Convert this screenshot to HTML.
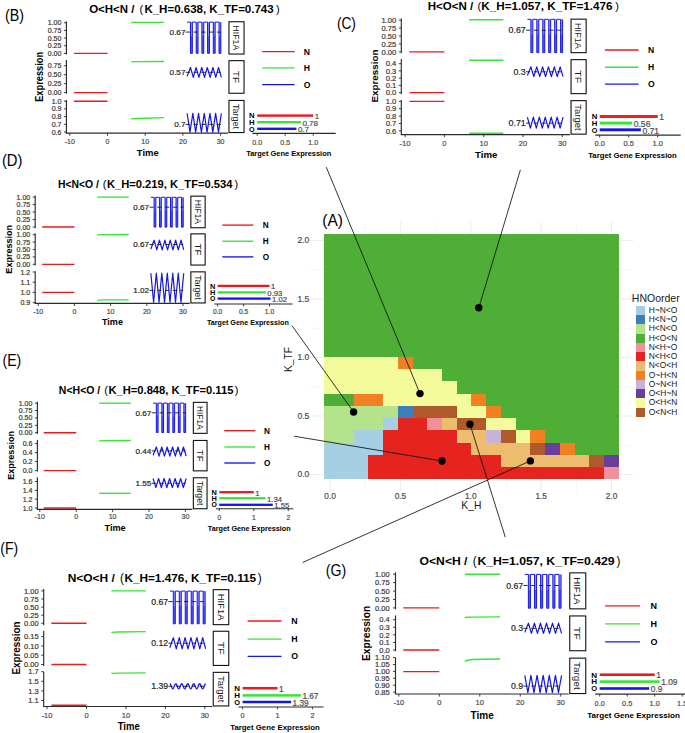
<!DOCTYPE html>
<html><head><meta charset="utf-8"><style>
html,body{margin:0;padding:0;background:#fff;width:685px;height:733px;overflow:hidden}
svg{display:block;font-family:"Liberation Sans",sans-serif}
</style></head><body>
<svg width="685" height="733" viewBox="0 0 685 733" font-family="Liberation Sans, sans-serif">
<rect x="0" y="0" width="685" height="733" fill="#fff"/>
<line x1="330.1" y1="222" x2="330.1" y2="491.5" stroke="#ebebeb" stroke-width="0.9"/>
<line x1="309.5" y1="474.5" x2="633.5" y2="474.5" stroke="#ebebeb" stroke-width="0.9"/>
<line x1="365.28" y1="222" x2="365.28" y2="491.5" stroke="#ebebeb" stroke-width="0.5"/>
<line x1="309.5" y1="445.24" x2="633.5" y2="445.24" stroke="#ebebeb" stroke-width="0.5"/>
<line x1="400.45" y1="222" x2="400.45" y2="491.5" stroke="#ebebeb" stroke-width="0.9"/>
<line x1="309.5" y1="415.98" x2="633.5" y2="415.98" stroke="#ebebeb" stroke-width="0.9"/>
<line x1="435.62" y1="222" x2="435.62" y2="491.5" stroke="#ebebeb" stroke-width="0.5"/>
<line x1="309.5" y1="386.71" x2="633.5" y2="386.71" stroke="#ebebeb" stroke-width="0.5"/>
<line x1="470.8" y1="222" x2="470.8" y2="491.5" stroke="#ebebeb" stroke-width="0.9"/>
<line x1="309.5" y1="357.45" x2="633.5" y2="357.45" stroke="#ebebeb" stroke-width="0.9"/>
<line x1="505.98" y1="222" x2="505.98" y2="491.5" stroke="#ebebeb" stroke-width="0.5"/>
<line x1="309.5" y1="328.19" x2="633.5" y2="328.19" stroke="#ebebeb" stroke-width="0.5"/>
<line x1="541.15" y1="222" x2="541.15" y2="491.5" stroke="#ebebeb" stroke-width="0.9"/>
<line x1="309.5" y1="298.93" x2="633.5" y2="298.93" stroke="#ebebeb" stroke-width="0.9"/>
<line x1="576.33" y1="222" x2="576.33" y2="491.5" stroke="#ebebeb" stroke-width="0.5"/>
<line x1="309.5" y1="269.66" x2="633.5" y2="269.66" stroke="#ebebeb" stroke-width="0.5"/>
<line x1="611.5" y1="222" x2="611.5" y2="491.5" stroke="#ebebeb" stroke-width="0.9"/>
<line x1="309.5" y1="240.4" x2="633.5" y2="240.4" stroke="#ebebeb" stroke-width="0.9"/>
<g shape-rendering="crispEdges">
<rect x="324.1" y="234.3" width="294.7" height="245" fill="#4fae36"/>
<rect x="324.1" y="467.05" width="44.2" height="12.25" fill="#a6cfe3"/>
<rect x="368.31" y="467.05" width="235.76" height="12.25" fill="#e52420"/>
<rect x="604.06" y="467.05" width="14.73" height="12.25" fill="#f09199"/>
<rect x="324.1" y="454.8" width="44.2" height="12.25" fill="#a6cfe3"/>
<rect x="368.31" y="454.8" width="132.61" height="12.25" fill="#e52420"/>
<rect x="500.92" y="454.8" width="88.41" height="12.25" fill="#eebc6f"/>
<rect x="589.33" y="454.8" width="14.73" height="12.25" fill="#ae5a2b"/>
<rect x="604.06" y="454.8" width="14.73" height="12.25" fill="#6a3e9d"/>
<rect x="324.1" y="442.55" width="58.94" height="12.25" fill="#a6cfe3"/>
<rect x="383.04" y="442.55" width="88.41" height="12.25" fill="#e52420"/>
<rect x="471.45" y="442.55" width="58.94" height="12.25" fill="#eebc6f"/>
<rect x="530.39" y="442.55" width="14.73" height="12.25" fill="#ae5a2b"/>
<rect x="545.12" y="442.55" width="14.73" height="12.25" fill="#6a3e9d"/>
<rect x="559.86" y="442.55" width="14.73" height="12.25" fill="#f18022"/>
<rect x="324.1" y="430.3" width="29.47" height="12.25" fill="#b4e38c"/>
<rect x="353.57" y="430.3" width="29.47" height="12.25" fill="#a6cfe3"/>
<rect x="383.04" y="430.3" width="73.67" height="12.25" fill="#e52420"/>
<rect x="456.71" y="430.3" width="29.47" height="12.25" fill="#eebc6f"/>
<rect x="486.18" y="430.3" width="14.73" height="12.25" fill="#c8b2d8"/>
<rect x="500.92" y="430.3" width="14.73" height="12.25" fill="#ae5a2b"/>
<rect x="515.65" y="430.3" width="14.73" height="12.25" fill="#f3fb9a"/>
<rect x="530.39" y="430.3" width="14.73" height="12.25" fill="#f18022"/>
<rect x="324.1" y="418.05" width="58.94" height="12.25" fill="#b4e38c"/>
<rect x="383.04" y="418.05" width="14.73" height="12.25" fill="#a6cfe3"/>
<rect x="397.77" y="418.05" width="29.47" height="12.25" fill="#e52420"/>
<rect x="427.25" y="418.05" width="14.73" height="12.25" fill="#f09199"/>
<rect x="441.98" y="418.05" width="14.73" height="12.25" fill="#eebc6f"/>
<rect x="456.71" y="418.05" width="29.47" height="12.25" fill="#ae5a2b"/>
<rect x="486.18" y="418.05" width="29.47" height="12.25" fill="#f3fb9a"/>
<rect x="324.1" y="405.8" width="73.67" height="12.25" fill="#b4e38c"/>
<rect x="397.77" y="405.8" width="14.73" height="12.25" fill="#3d7fbd"/>
<rect x="412.51" y="405.8" width="44.2" height="12.25" fill="#ae5a2b"/>
<rect x="456.71" y="405.8" width="29.47" height="12.25" fill="#f3fb9a"/>
<rect x="486.18" y="405.8" width="14.73" height="12.25" fill="#f18022"/>
<rect x="353.57" y="393.55" width="29.47" height="12.25" fill="#f18022"/>
<rect x="383.04" y="393.55" width="88.41" height="12.25" fill="#f3fb9a"/>
<rect x="471.45" y="393.55" width="14.73" height="12.25" fill="#f18022"/>
<rect x="324.1" y="381.3" width="132.61" height="12.25" fill="#f3fb9a"/>
<rect x="324.1" y="369.05" width="117.88" height="12.25" fill="#f3fb9a"/>
<rect x="324.1" y="356.8" width="73.67" height="12.25" fill="#f3fb9a"/>
<rect x="397.77" y="356.8" width="14.73" height="12.25" fill="#f18022"/>
</g>
<text x="330.1" y="498.7" font-size="8.3" text-anchor="middle" fill="#4d4d4d" stroke="#4d4d4d" stroke-width="0.2">0.0</text>
<text x="309.3" y="477.4" font-size="8.5" text-anchor="end" fill="#4d4d4d" stroke="#4d4d4d" stroke-width="0.2">0.0</text>
<text x="400.45" y="498.7" font-size="8.3" text-anchor="middle" fill="#4d4d4d" stroke="#4d4d4d" stroke-width="0.2">0.5</text>
<text x="309.3" y="418.88" font-size="8.5" text-anchor="end" fill="#4d4d4d" stroke="#4d4d4d" stroke-width="0.2">0.5</text>
<text x="470.8" y="498.7" font-size="8.3" text-anchor="middle" fill="#4d4d4d" stroke="#4d4d4d" stroke-width="0.2">1.0</text>
<text x="309.3" y="360.35" font-size="8.5" text-anchor="end" fill="#4d4d4d" stroke="#4d4d4d" stroke-width="0.2">1.0</text>
<text x="541.15" y="498.7" font-size="8.3" text-anchor="middle" fill="#4d4d4d" stroke="#4d4d4d" stroke-width="0.2">1.5</text>
<text x="309.3" y="301.82" font-size="8.5" text-anchor="end" fill="#4d4d4d" stroke="#4d4d4d" stroke-width="0.2">1.5</text>
<text x="611.5" y="498.7" font-size="8.3" text-anchor="middle" fill="#4d4d4d" stroke="#4d4d4d" stroke-width="0.2">2.0</text>
<text x="309.3" y="243.3" font-size="8.5" text-anchor="end" fill="#4d4d4d" stroke="#4d4d4d" stroke-width="0.2">2.0</text>
<text x="471.3" y="508.5" font-size="10.3" text-anchor="middle" fill="#1a1a1a">K_H</text>
<text transform="translate(292.1,359.6) rotate(-90)" font-size="10.6" text-anchor="middle" fill="#1a1a1a" textLength="24.9" lengthAdjust="spacingAndGlyphs">K_TF</text>
<text x="322.3" y="226.4" font-size="16" fill="#000" textLength="20.6" lengthAdjust="spacingAndGlyphs">(A)</text>
<text x="631.8" y="302.4" font-size="10.3" fill="#1a1a1a" textLength="47.9" lengthAdjust="spacingAndGlyphs">HNOorder</text>
<rect x="636" y="305.96" width="9.2" height="9.24" fill="#a6cfe3" shape-rendering="crispEdges"/>
<text x="648.7" y="312.96" font-size="8.6" fill="#1a1a1a" textLength="28.6" lengthAdjust="spacingAndGlyphs">H~N&lt;O</text>
<rect x="636" y="315.2" width="9.2" height="9.24" fill="#3d7fbd" shape-rendering="crispEdges"/>
<text x="648.7" y="322.2" font-size="8.6" fill="#1a1a1a" textLength="28.6" lengthAdjust="spacingAndGlyphs">H&lt;N~O</text>
<rect x="636" y="324.44" width="9.2" height="9.24" fill="#b4e38c" shape-rendering="crispEdges"/>
<text x="648.7" y="331.44" font-size="8.6" fill="#1a1a1a" textLength="28.6" lengthAdjust="spacingAndGlyphs">H&lt;N&lt;O</text>
<rect x="636" y="333.68" width="9.2" height="9.24" fill="#4fae36" shape-rendering="crispEdges"/>
<text x="648.7" y="340.68" font-size="8.6" fill="#1a1a1a" textLength="28.6" lengthAdjust="spacingAndGlyphs">H&lt;O&lt;N</text>
<rect x="636" y="342.92" width="9.2" height="9.24" fill="#f09199" shape-rendering="crispEdges"/>
<text x="648.7" y="349.92" font-size="8.6" fill="#1a1a1a" textLength="28.6" lengthAdjust="spacingAndGlyphs">N&lt;H~O</text>
<rect x="636" y="352.16" width="9.2" height="9.24" fill="#e52420" shape-rendering="crispEdges"/>
<text x="648.7" y="359.16" font-size="8.6" fill="#1a1a1a" textLength="28.6" lengthAdjust="spacingAndGlyphs">N&lt;H&lt;O</text>
<rect x="636" y="361.4" width="9.2" height="9.24" fill="#eebc6f" shape-rendering="crispEdges"/>
<text x="648.7" y="368.4" font-size="8.6" fill="#1a1a1a" textLength="28.6" lengthAdjust="spacingAndGlyphs">N&lt;O&lt;H</text>
<rect x="636" y="370.64" width="9.2" height="9.24" fill="#f18022" shape-rendering="crispEdges"/>
<text x="648.7" y="377.64" font-size="8.6" fill="#1a1a1a" textLength="28.6" lengthAdjust="spacingAndGlyphs">O~H&lt;N</text>
<rect x="636" y="379.88" width="9.2" height="9.24" fill="#c8b2d8" shape-rendering="crispEdges"/>
<text x="648.7" y="386.88" font-size="8.6" fill="#1a1a1a" textLength="28.6" lengthAdjust="spacingAndGlyphs">O~N&lt;H</text>
<rect x="636" y="389.12" width="9.2" height="9.24" fill="#6a3e9d" shape-rendering="crispEdges"/>
<text x="648.7" y="396.12" font-size="8.6" fill="#1a1a1a" textLength="28.6" lengthAdjust="spacingAndGlyphs">O&lt;H~N</text>
<rect x="636" y="398.36" width="9.2" height="9.24" fill="#f3fb9a" shape-rendering="crispEdges"/>
<text x="648.7" y="405.36" font-size="8.6" fill="#1a1a1a" textLength="28.6" lengthAdjust="spacingAndGlyphs">O&lt;H&lt;N</text>
<rect x="636" y="407.6" width="9.2" height="9.24" fill="#ae5a2b" shape-rendering="crispEdges"/>
<text x="648.7" y="414.6" font-size="8.6" fill="#1a1a1a" textLength="28.6" lengthAdjust="spacingAndGlyphs">O&lt;N&lt;H</text>
<text x="5.1" y="20.7" font-size="16" fill="#000" textLength="19" lengthAdjust="spacingAndGlyphs">(B)</text>
<text x="89.2" y="12.8" font-size="10.2" font-weight="bold" fill="#000" textLength="45.3" lengthAdjust="spacingAndGlyphs">O&lt;H&lt;N /</text>
<text x="139.4" y="12.9" font-size="11.42" fill="#000" textLength="3.67" lengthAdjust="spacingAndGlyphs">(</text>
<text x="144.4" y="12.8" font-size="10.2" font-weight="bold" fill="#000" textLength="129.3" lengthAdjust="spacingAndGlyphs">K_H=0.638, K_TF=0.743</text>
<text x="276" y="12.9" font-size="11.42" fill="#000" textLength="3.67" lengthAdjust="spacingAndGlyphs">)</text>
<text transform="translate(43.2,76.9) rotate(-90)" font-size="10.4" font-weight="bold" text-anchor="middle" textLength="49.9" lengthAdjust="spacingAndGlyphs">Expression</text>
<line x1="66.4" y1="21.2" x2="66.4" y2="54.6" stroke="#2b2b2b" stroke-width="1.15"/>
<line x1="63.9" y1="22.8" x2="66.4" y2="22.8" stroke="#2b2b2b" stroke-width="0.9"/>
<text x="61.4" y="25.32" font-size="7" text-anchor="end" fill="#383838" stroke="#383838" stroke-width="0.2">1.00</text>
<line x1="63.9" y1="30.45" x2="66.4" y2="30.45" stroke="#2b2b2b" stroke-width="0.9"/>
<text x="61.4" y="32.97" font-size="7" text-anchor="end" fill="#383838" stroke="#383838" stroke-width="0.2">0.75</text>
<line x1="63.9" y1="38.1" x2="66.4" y2="38.1" stroke="#2b2b2b" stroke-width="0.9"/>
<text x="61.4" y="40.62" font-size="7" text-anchor="end" fill="#383838" stroke="#383838" stroke-width="0.2">0.50</text>
<line x1="63.9" y1="45.75" x2="66.4" y2="45.75" stroke="#2b2b2b" stroke-width="0.9"/>
<text x="61.4" y="48.27" font-size="7" text-anchor="end" fill="#383838" stroke="#383838" stroke-width="0.2">0.25</text>
<line x1="63.9" y1="53.4" x2="66.4" y2="53.4" stroke="#2b2b2b" stroke-width="0.9"/>
<text x="61.4" y="55.92" font-size="7" text-anchor="end" fill="#383838" stroke="#383838" stroke-width="0.2">0.00</text>
<rect x="228.95" y="21.75" width="15.1" height="32.3" fill="#fff" stroke="#111" stroke-width="1.1"/>
<text transform="translate(233.29,37.9) rotate(90)" font-size="8.91" text-anchor="middle" fill="#1a1a1a" textLength="24.72" lengthAdjust="spacingAndGlyphs">HIF1A</text>
<line x1="73.95" y1="53.4" x2="107.5" y2="53.4" stroke="#f01818" stroke-width="1.35"/>
<line x1="131.25" y1="22.3" x2="164.05" y2="22.3" stroke="#33e833" stroke-width="1.35"/>
<text x="185.42" y="35.02" font-size="8.12" text-anchor="end" fill="#262626" stroke="#262626" stroke-width="0.2">0.67</text>
<rect x="190.48" y="22.1" width="1.85" height="14.04" fill="#9494ff"/>
<rect x="190.48" y="36.14" width="1.85" height="17.16" fill="#5a5aff"/>
<rect x="196.18" y="22.1" width="1.85" height="14.04" fill="#9494ff"/>
<rect x="196.18" y="36.14" width="1.85" height="17.16" fill="#5a5aff"/>
<rect x="201.89" y="22.1" width="1.85" height="14.04" fill="#9494ff"/>
<rect x="201.89" y="36.14" width="1.85" height="17.16" fill="#5a5aff"/>
<rect x="207.59" y="22.1" width="1.85" height="14.04" fill="#9494ff"/>
<rect x="207.59" y="36.14" width="1.85" height="17.16" fill="#5a5aff"/>
<rect x="213.3" y="22.1" width="1.85" height="14.04" fill="#9494ff"/>
<rect x="213.3" y="36.14" width="1.85" height="17.16" fill="#5a5aff"/>
<rect x="219" y="22.1" width="1.85" height="14.04" fill="#9494ff"/>
<rect x="219" y="36.14" width="1.85" height="17.16" fill="#5a5aff"/>
<polyline points="187.12,22.1 190.48,22.1 190.48,53.3 192.33,53.3 192.33,22.1 196.18,22.1 196.18,53.3 198.03,53.3 198.03,22.1 201.89,22.1 201.89,53.3 203.74,53.3 203.74,22.1 207.59,22.1 207.59,53.3 209.44,53.3 209.44,22.1 213.3,22.1 213.3,53.3 215.15,53.3 215.15,22.1 219,22.1 219,53.3 220.85,53.3 220.85,22.1" fill="none" stroke="#1414f0" stroke-width="1" stroke-linejoin="round"/>
<line x1="185.72" y1="32.1" x2="220.85" y2="32.1" stroke="#1a1a1a" stroke-width="0.9" stroke-dasharray="4.2,3.6"/>
<line x1="66.4" y1="60.1" x2="66.4" y2="93.8" stroke="#2b2b2b" stroke-width="1.15"/>
<line x1="63.9" y1="65.8" x2="66.4" y2="65.8" stroke="#2b2b2b" stroke-width="0.9"/>
<text x="61.4" y="68.32" font-size="7" text-anchor="end" fill="#383838" stroke="#383838" stroke-width="0.2">0.75</text>
<line x1="63.9" y1="74.73" x2="66.4" y2="74.73" stroke="#2b2b2b" stroke-width="0.9"/>
<text x="61.4" y="77.25" font-size="7" text-anchor="end" fill="#383838" stroke="#383838" stroke-width="0.2">0.50</text>
<line x1="63.9" y1="83.67" x2="66.4" y2="83.67" stroke="#2b2b2b" stroke-width="0.9"/>
<text x="61.4" y="86.19" font-size="7" text-anchor="end" fill="#383838" stroke="#383838" stroke-width="0.2">0.25</text>
<line x1="63.9" y1="92.6" x2="66.4" y2="92.6" stroke="#2b2b2b" stroke-width="0.9"/>
<text x="61.4" y="95.12" font-size="7" text-anchor="end" fill="#383838" stroke="#383838" stroke-width="0.2">0.00</text>
<rect x="228.95" y="60.65" width="15.1" height="32.6" fill="#fff" stroke="#111" stroke-width="1.1"/>
<text transform="translate(233.29,76.95) rotate(90)" font-size="8.91" text-anchor="middle" fill="#1a1a1a" textLength="12.47" lengthAdjust="spacingAndGlyphs">TF</text>
<line x1="73.95" y1="92.6" x2="107.5" y2="92.6" stroke="#f01818" stroke-width="1.35"/>
<polyline points="131.25,61.9 137.66,61.6 164.05,61.5" fill="none" stroke="#33e833" stroke-width="1.35" stroke-linejoin="round"/>
<text x="185.42" y="75.22" font-size="8.12" text-anchor="end" fill="#262626" stroke="#262626" stroke-width="0.2">0.57</text>
<polyline points="187.12,76.41 190.49,67.5 193.3,77.4 196.1,67.5 198.91,77.4 201.71,67.5 204.52,77.4 207.32,67.5 210.13,77.4 212.94,67.5 215.74,77.4 218.55,67.5 221.35,77.4" fill="none" stroke="#1414f0" stroke-width="1.2" stroke-linejoin="round"/>
<line x1="185.72" y1="72.3" x2="220.85" y2="72.3" stroke="#1a1a1a" stroke-width="0.9" stroke-dasharray="4.2,3.6"/>
<line x1="66.4" y1="99.9" x2="66.4" y2="133.2" stroke="#2b2b2b" stroke-width="1.15"/>
<line x1="63.9" y1="101.2" x2="66.4" y2="101.2" stroke="#2b2b2b" stroke-width="0.9"/>
<text x="61.4" y="103.72" font-size="7" text-anchor="end" fill="#383838" stroke="#383838" stroke-width="0.2">1.0</text>
<line x1="63.9" y1="108.9" x2="66.4" y2="108.9" stroke="#2b2b2b" stroke-width="0.9"/>
<text x="61.4" y="111.42" font-size="7" text-anchor="end" fill="#383838" stroke="#383838" stroke-width="0.2">0.9</text>
<line x1="63.9" y1="116.6" x2="66.4" y2="116.6" stroke="#2b2b2b" stroke-width="0.9"/>
<text x="61.4" y="119.12" font-size="7" text-anchor="end" fill="#383838" stroke="#383838" stroke-width="0.2">0.8</text>
<line x1="63.9" y1="124.3" x2="66.4" y2="124.3" stroke="#2b2b2b" stroke-width="0.9"/>
<text x="61.4" y="126.82" font-size="7" text-anchor="end" fill="#383838" stroke="#383838" stroke-width="0.2">0.7</text>
<line x1="63.9" y1="132" x2="66.4" y2="132" stroke="#2b2b2b" stroke-width="0.9"/>
<text x="61.4" y="134.52" font-size="7" text-anchor="end" fill="#383838" stroke="#383838" stroke-width="0.2">0.6</text>
<rect x="228.95" y="100.45" width="15.1" height="32.1" fill="#fff" stroke="#111" stroke-width="1.1"/>
<text transform="translate(233.29,116.5) rotate(90)" font-size="8.91" text-anchor="middle" fill="#1a1a1a" textLength="25.23" lengthAdjust="spacingAndGlyphs">Target</text>
<line x1="73.95" y1="101.2" x2="107.5" y2="101.2" stroke="#f01818" stroke-width="1.35"/>
<polyline points="131.25,118.9 137.66,118.5 164.05,117.6" fill="none" stroke="#33e833" stroke-width="1.35" stroke-linejoin="round"/>
<text x="185.42" y="127.32" font-size="8.12" text-anchor="end" fill="#262626" stroke="#262626" stroke-width="0.2">0.7</text>
<polyline points="187.12,113.3 189.98,132.2 192.83,113.3 195.68,132.2 198.53,113.3 201.39,132.2 204.24,113.3 207.09,132.2 209.94,113.3 212.8,132.2 215.65,113.3 218.5,132.2 221.35,113.3" fill="none" stroke="#1414f0" stroke-width="1.2" stroke-linejoin="round"/>
<line x1="185.72" y1="124.4" x2="220.85" y2="124.4" stroke="#1a1a1a" stroke-width="0.9" stroke-dasharray="4.2,3.6"/>
<line x1="65.8" y1="133.2" x2="227.9" y2="133.2" stroke="#2b2b2b" stroke-width="1.2"/>
<line x1="69.8" y1="133.2" x2="69.8" y2="135.8" stroke="#2b2b2b" stroke-width="0.9"/>
<text x="69.8" y="144.3" font-size="7" text-anchor="middle" fill="#4d4d4d" stroke="#4d4d4d" stroke-width="0.2">-10</text>
<line x1="107.5" y1="133.2" x2="107.5" y2="135.8" stroke="#2b2b2b" stroke-width="0.9"/>
<text x="107.5" y="144.3" font-size="7" text-anchor="middle" fill="#4d4d4d" stroke="#4d4d4d" stroke-width="0.2">0</text>
<line x1="145.2" y1="133.2" x2="145.2" y2="135.8" stroke="#2b2b2b" stroke-width="0.9"/>
<text x="145.2" y="144.3" font-size="7" text-anchor="middle" fill="#4d4d4d" stroke="#4d4d4d" stroke-width="0.2">10</text>
<line x1="182.9" y1="133.2" x2="182.9" y2="135.8" stroke="#2b2b2b" stroke-width="0.9"/>
<text x="182.9" y="144.3" font-size="7" text-anchor="middle" fill="#4d4d4d" stroke="#4d4d4d" stroke-width="0.2">20</text>
<line x1="220.6" y1="133.2" x2="220.6" y2="135.8" stroke="#2b2b2b" stroke-width="0.9"/>
<text x="220.6" y="144.3" font-size="7" text-anchor="middle" fill="#4d4d4d" stroke="#4d4d4d" stroke-width="0.2">30</text>
<text x="136.8" y="155.7" font-size="9.6" font-weight="bold" fill="#000" textLength="21.9" lengthAdjust="spacingAndGlyphs">Time</text>
<line x1="262.2" y1="51.6" x2="294.6" y2="51.6" stroke="#f01818" stroke-width="1.35"/>
<text x="303.8" y="54.7" font-size="8.6" font-weight="bold" fill="#000">N</text>
<line x1="262.2" y1="67.8" x2="294.6" y2="67.8" stroke="#33e833" stroke-width="1.35"/>
<text x="303.8" y="70.9" font-size="8.6" font-weight="bold" fill="#000">H</text>
<line x1="262.2" y1="84.6" x2="294.6" y2="84.6" stroke="#1414f0" stroke-width="1.35"/>
<text x="303.8" y="87.7" font-size="8.6" font-weight="bold" fill="#000">O</text>
<rect x="257.2" y="114.4" width="56" height="2.4" fill="#f01818"/>
<text x="314.7" y="119.1" font-size="8.05" fill="#4d4d4d" stroke="#4d4d4d" stroke-width="0.2">1</text>
<text x="248.9" y="118.37" font-size="7.7" font-weight="bold" fill="#000" textLength="5.6" lengthAdjust="spacingAndGlyphs">N</text>
<rect x="257.2" y="121" width="43.68" height="2.4" fill="#33e833"/>
<text x="302.38" y="125.7" font-size="8.05" fill="#4d4d4d" stroke="#4d4d4d" stroke-width="0.2">0.78</text>
<text x="248.9" y="124.97" font-size="7.7" font-weight="bold" fill="#000" textLength="5.6" lengthAdjust="spacingAndGlyphs">H</text>
<rect x="257.2" y="127.6" width="39.2" height="2.4" fill="#1414f0"/>
<text x="297.9" y="132.3" font-size="8.05" fill="#4d4d4d" stroke="#4d4d4d" stroke-width="0.2">0.7</text>
<text x="248.9" y="131.57" font-size="7.7" font-weight="bold" fill="#000" textLength="5.6" lengthAdjust="spacingAndGlyphs">O</text>
<line x1="252.4" y1="133.4" x2="335.7" y2="133.4" stroke="#2b2b2b" stroke-width="1.15"/>
<line x1="257.2" y1="133.4" x2="257.2" y2="135.8" stroke="#2b2b2b" stroke-width="0.9"/>
<text x="257.2" y="144.5" font-size="7" text-anchor="middle" fill="#4d4d4d" stroke="#4d4d4d" stroke-width="0.2">0.0</text>
<line x1="285.2" y1="133.4" x2="285.2" y2="135.8" stroke="#2b2b2b" stroke-width="0.9"/>
<text x="285.2" y="144.5" font-size="7" text-anchor="middle" fill="#4d4d4d" stroke="#4d4d4d" stroke-width="0.2">0.5</text>
<line x1="313.2" y1="133.4" x2="313.2" y2="135.8" stroke="#2b2b2b" stroke-width="0.9"/>
<text x="313.2" y="144.5" font-size="7" text-anchor="middle" fill="#4d4d4d" stroke="#4d4d4d" stroke-width="0.2">1.0</text>
<text x="246.2" y="155.8" font-size="7.6" font-weight="bold" fill="#000" textLength="85.1" lengthAdjust="spacingAndGlyphs">Target Gene Expression</text>
<text x="336.9" y="28.6" font-size="16" fill="#000" textLength="19" lengthAdjust="spacingAndGlyphs">(C)</text>
<text x="427.7" y="10.3" font-size="10.2" font-weight="bold" fill="#000" textLength="45.6" lengthAdjust="spacingAndGlyphs">H&lt;O&lt;N /</text>
<text x="477.6" y="10.4" font-size="11.42" fill="#000" textLength="3.67" lengthAdjust="spacingAndGlyphs">(</text>
<text x="481.3" y="10.3" font-size="10.2" font-weight="bold" fill="#000" textLength="131.2" lengthAdjust="spacingAndGlyphs">K_H=1.057, K_TF=1.476</text>
<text x="615.3" y="10.4" font-size="11.42" fill="#000" textLength="3.67" lengthAdjust="spacingAndGlyphs">)</text>
<text transform="translate(378.1,76) rotate(-90)" font-size="9.9" font-weight="bold" text-anchor="middle" textLength="53" lengthAdjust="spacingAndGlyphs">Expression</text>
<line x1="401.3" y1="18.6" x2="401.3" y2="53.2" stroke="#2b2b2b" stroke-width="1.15"/>
<line x1="398.8" y1="20.1" x2="401.3" y2="20.1" stroke="#2b2b2b" stroke-width="0.9"/>
<text x="396.3" y="22.84" font-size="7.6" text-anchor="end" fill="#383838" stroke="#383838" stroke-width="0.2">1.00</text>
<line x1="398.8" y1="28.05" x2="401.3" y2="28.05" stroke="#2b2b2b" stroke-width="0.9"/>
<text x="396.3" y="30.79" font-size="7.6" text-anchor="end" fill="#383838" stroke="#383838" stroke-width="0.2">0.75</text>
<line x1="398.8" y1="36" x2="401.3" y2="36" stroke="#2b2b2b" stroke-width="0.9"/>
<text x="396.3" y="38.74" font-size="7.6" text-anchor="end" fill="#383838" stroke="#383838" stroke-width="0.2">0.50</text>
<line x1="398.8" y1="43.95" x2="401.3" y2="43.95" stroke="#2b2b2b" stroke-width="0.9"/>
<text x="396.3" y="46.69" font-size="7.6" text-anchor="end" fill="#383838" stroke="#383838" stroke-width="0.2">0.25</text>
<line x1="398.8" y1="51.9" x2="401.3" y2="51.9" stroke="#2b2b2b" stroke-width="0.9"/>
<text x="396.3" y="54.64" font-size="7.6" text-anchor="end" fill="#383838" stroke="#383838" stroke-width="0.2">0.00</text>
<rect x="571.05" y="19.15" width="15.1" height="33.5" fill="#fff" stroke="#111" stroke-width="1.1"/>
<text transform="translate(575.39,35.9) rotate(90)" font-size="8.91" text-anchor="middle" fill="#1a1a1a" textLength="25.6" lengthAdjust="spacingAndGlyphs">HIF1A</text>
<line x1="409.42" y1="51.9" x2="444.4" y2="51.9" stroke="#f01818" stroke-width="1.35"/>
<line x1="469.16" y1="19.7" x2="503.35" y2="19.7" stroke="#33e833" stroke-width="1.35"/>
<text x="525.7" y="33.37" font-size="8.82" text-anchor="end" fill="#262626" stroke="#262626" stroke-width="0.2">0.67</text>
<rect x="530.88" y="19.3" width="1.97" height="14.98" fill="#9494ff"/>
<rect x="530.88" y="34.28" width="1.97" height="18.32" fill="#5a5aff"/>
<rect x="536.82" y="19.3" width="1.97" height="14.98" fill="#9494ff"/>
<rect x="536.82" y="34.28" width="1.97" height="18.32" fill="#5a5aff"/>
<rect x="542.77" y="19.3" width="1.97" height="14.98" fill="#9494ff"/>
<rect x="542.77" y="34.28" width="1.97" height="18.32" fill="#5a5aff"/>
<rect x="548.72" y="19.3" width="1.97" height="14.98" fill="#9494ff"/>
<rect x="548.72" y="34.28" width="1.97" height="18.32" fill="#5a5aff"/>
<rect x="554.66" y="19.3" width="1.97" height="14.98" fill="#9494ff"/>
<rect x="554.66" y="34.28" width="1.97" height="18.32" fill="#5a5aff"/>
<rect x="560.61" y="19.3" width="1.97" height="14.98" fill="#9494ff"/>
<rect x="560.61" y="34.28" width="1.97" height="18.32" fill="#5a5aff"/>
<polyline points="527.4,19.3 530.88,19.3 530.88,52.6 532.85,52.6 532.85,19.3 536.82,19.3 536.82,52.6 538.8,52.6 538.8,19.3 542.77,19.3 542.77,52.6 544.74,52.6 544.74,19.3 548.72,19.3 548.72,52.6 550.69,52.6 550.69,19.3 554.66,19.3 554.66,52.6 556.64,52.6 556.64,19.3 560.61,19.3 560.61,52.6 562.59,52.6 562.59,19.3" fill="none" stroke="#1414f0" stroke-width="1" stroke-linejoin="round"/>
<line x1="526" y1="30.2" x2="562.59" y2="30.2" stroke="#1a1a1a" stroke-width="0.9" stroke-dasharray="4.2,3.6"/>
<line x1="401.3" y1="59.1" x2="401.3" y2="94.2" stroke="#2b2b2b" stroke-width="1.15"/>
<line x1="398.8" y1="63.7" x2="401.3" y2="63.7" stroke="#2b2b2b" stroke-width="0.9"/>
<text x="396.3" y="66.44" font-size="7.6" text-anchor="end" fill="#383838" stroke="#383838" stroke-width="0.2">0.4</text>
<line x1="398.8" y1="70.92" x2="401.3" y2="70.92" stroke="#2b2b2b" stroke-width="0.9"/>
<text x="396.3" y="73.66" font-size="7.6" text-anchor="end" fill="#383838" stroke="#383838" stroke-width="0.2">0.3</text>
<line x1="398.8" y1="78.15" x2="401.3" y2="78.15" stroke="#2b2b2b" stroke-width="0.9"/>
<text x="396.3" y="80.89" font-size="7.6" text-anchor="end" fill="#383838" stroke="#383838" stroke-width="0.2">0.2</text>
<line x1="398.8" y1="85.38" x2="401.3" y2="85.38" stroke="#2b2b2b" stroke-width="0.9"/>
<text x="396.3" y="88.11" font-size="7.6" text-anchor="end" fill="#383838" stroke="#383838" stroke-width="0.2">0.1</text>
<line x1="398.8" y1="92.6" x2="401.3" y2="92.6" stroke="#2b2b2b" stroke-width="0.9"/>
<text x="396.3" y="95.34" font-size="7.6" text-anchor="end" fill="#383838" stroke="#383838" stroke-width="0.2">0.0</text>
<rect x="571.05" y="59.65" width="15.1" height="34" fill="#fff" stroke="#111" stroke-width="1.1"/>
<text transform="translate(575.39,76.65) rotate(90)" font-size="8.91" text-anchor="middle" fill="#1a1a1a" textLength="12.99" lengthAdjust="spacingAndGlyphs">TF</text>
<line x1="409.42" y1="92.6" x2="444.4" y2="92.6" stroke="#f01818" stroke-width="1.35"/>
<line x1="469.16" y1="60.2" x2="503.35" y2="60.2" stroke="#33e833" stroke-width="1.35"/>
<text x="525.7" y="74.97" font-size="8.82" text-anchor="end" fill="#262626" stroke="#262626" stroke-width="0.2">0.3</text>
<polyline points="527.4,75.62 530.91,66.8 533.84,76.6 536.76,66.8 539.69,76.6 542.61,66.8 545.54,76.6 548.46,66.8 551.39,76.6 554.31,66.8 557.24,76.6 560.16,66.8 563.09,76.6" fill="none" stroke="#1414f0" stroke-width="1.2" stroke-linejoin="round"/>
<line x1="526" y1="71.8" x2="562.59" y2="71.8" stroke="#1a1a1a" stroke-width="0.9" stroke-dasharray="4.2,3.6"/>
<line x1="401.3" y1="100.1" x2="401.3" y2="134.6" stroke="#2b2b2b" stroke-width="1.15"/>
<line x1="398.8" y1="101.3" x2="401.3" y2="101.3" stroke="#2b2b2b" stroke-width="0.9"/>
<text x="396.3" y="104.04" font-size="7.6" text-anchor="end" fill="#383838" stroke="#383838" stroke-width="0.2">1.0</text>
<line x1="398.8" y1="108.7" x2="401.3" y2="108.7" stroke="#2b2b2b" stroke-width="0.9"/>
<text x="396.3" y="111.44" font-size="7.6" text-anchor="end" fill="#383838" stroke="#383838" stroke-width="0.2">0.9</text>
<line x1="398.8" y1="116.1" x2="401.3" y2="116.1" stroke="#2b2b2b" stroke-width="0.9"/>
<text x="396.3" y="118.84" font-size="7.6" text-anchor="end" fill="#383838" stroke="#383838" stroke-width="0.2">0.8</text>
<line x1="398.8" y1="123.5" x2="401.3" y2="123.5" stroke="#2b2b2b" stroke-width="0.9"/>
<text x="396.3" y="126.24" font-size="7.6" text-anchor="end" fill="#383838" stroke="#383838" stroke-width="0.2">0.7</text>
<line x1="398.8" y1="130.9" x2="401.3" y2="130.9" stroke="#2b2b2b" stroke-width="0.9"/>
<text x="396.3" y="133.64" font-size="7.6" text-anchor="end" fill="#383838" stroke="#383838" stroke-width="0.2">0.6</text>
<rect x="571.05" y="100.65" width="15.1" height="33.5" fill="#fff" stroke="#111" stroke-width="1.1"/>
<text transform="translate(575.39,117.4) rotate(90)" font-size="8.91" text-anchor="middle" fill="#1a1a1a" textLength="26.3" lengthAdjust="spacingAndGlyphs">Target</text>
<line x1="409.42" y1="101.3" x2="444.4" y2="101.3" stroke="#f01818" stroke-width="1.35"/>
<line x1="469.16" y1="133.2" x2="503.35" y2="133.2" stroke="#33e833" stroke-width="1.35"/>
<text x="525.7" y="126.27" font-size="8.82" text-anchor="end" fill="#262626" stroke="#262626" stroke-width="0.2">0.71</text>
<polyline points="527.4,117.2 530.38,128.2 533.35,117.2 536.32,128.2 539.3,117.2 542.27,128.2 545.24,117.2 548.22,128.2 551.19,117.2 554.16,128.2 557.14,117.2 560.11,128.2 563.09,117.2" fill="none" stroke="#1414f0" stroke-width="1.2" stroke-linejoin="round"/>
<line x1="526" y1="123.1" x2="562.59" y2="123.1" stroke="#1a1a1a" stroke-width="0.9" stroke-dasharray="4.2,3.6"/>
<line x1="400.7" y1="134.6" x2="570" y2="134.6" stroke="#2b2b2b" stroke-width="1.2"/>
<line x1="405.1" y1="134.6" x2="405.1" y2="137.2" stroke="#2b2b2b" stroke-width="0.9"/>
<text x="405.1" y="146" font-size="7.6" text-anchor="middle" fill="#4d4d4d" stroke="#4d4d4d" stroke-width="0.2">-10</text>
<line x1="444.4" y1="134.6" x2="444.4" y2="137.2" stroke="#2b2b2b" stroke-width="0.9"/>
<text x="444.4" y="146" font-size="7.6" text-anchor="middle" fill="#4d4d4d" stroke="#4d4d4d" stroke-width="0.2">0</text>
<line x1="483.7" y1="134.6" x2="483.7" y2="137.2" stroke="#2b2b2b" stroke-width="0.9"/>
<text x="483.7" y="146" font-size="7.6" text-anchor="middle" fill="#4d4d4d" stroke="#4d4d4d" stroke-width="0.2">10</text>
<line x1="523" y1="134.6" x2="523" y2="137.2" stroke="#2b2b2b" stroke-width="0.9"/>
<text x="523" y="146" font-size="7.6" text-anchor="middle" fill="#4d4d4d" stroke="#4d4d4d" stroke-width="0.2">20</text>
<line x1="562.3" y1="134.6" x2="562.3" y2="137.2" stroke="#2b2b2b" stroke-width="0.9"/>
<text x="562.3" y="146" font-size="7.6" text-anchor="middle" fill="#4d4d4d" stroke="#4d4d4d" stroke-width="0.2">30</text>
<text x="475" y="157.7" font-size="9.6" font-weight="bold" fill="#000" textLength="22.4" lengthAdjust="spacingAndGlyphs">Time</text>
<line x1="604.9" y1="50" x2="638.5" y2="50" stroke="#f01818" stroke-width="1.35"/>
<text x="648" y="53.1" font-size="8.6" font-weight="bold" fill="#000">N</text>
<line x1="604.9" y1="67.2" x2="638.5" y2="67.2" stroke="#33e833" stroke-width="1.35"/>
<text x="648" y="70.3" font-size="8.6" font-weight="bold" fill="#000">H</text>
<line x1="604.9" y1="84.1" x2="638.5" y2="84.1" stroke="#1414f0" stroke-width="1.35"/>
<text x="648" y="87.2" font-size="8.6" font-weight="bold" fill="#000">O</text>
<rect x="599.7" y="115.05" width="58" height="2.9" fill="#f01818"/>
<text x="659.2" y="120.2" font-size="8.62" fill="#4d4d4d" stroke="#4d4d4d" stroke-width="0.2">1</text>
<text x="591.7" y="119.27" font-size="7.7" font-weight="bold" fill="#000" textLength="5.6" lengthAdjust="spacingAndGlyphs">N</text>
<rect x="599.7" y="121.65" width="32.48" height="2.9" fill="#33e833"/>
<text x="633.68" y="126.8" font-size="8.62" fill="#4d4d4d" stroke="#4d4d4d" stroke-width="0.2">0.56</text>
<text x="591.7" y="125.87" font-size="7.7" font-weight="bold" fill="#000" textLength="5.6" lengthAdjust="spacingAndGlyphs">H</text>
<rect x="599.7" y="128.35" width="41.18" height="2.9" fill="#1414f0"/>
<text x="642.38" y="133.5" font-size="8.62" fill="#4d4d4d" stroke="#4d4d4d" stroke-width="0.2">0.71</text>
<text x="591.7" y="132.57" font-size="7.7" font-weight="bold" fill="#000" textLength="5.6" lengthAdjust="spacingAndGlyphs">O</text>
<line x1="595.3" y1="135.1" x2="680.7" y2="135.1" stroke="#2b2b2b" stroke-width="1.15"/>
<line x1="599.7" y1="135.1" x2="599.7" y2="137.5" stroke="#2b2b2b" stroke-width="0.9"/>
<text x="599.7" y="146" font-size="7.5" text-anchor="middle" fill="#4d4d4d" stroke="#4d4d4d" stroke-width="0.2">0.0</text>
<line x1="628.7" y1="135.1" x2="628.7" y2="137.5" stroke="#2b2b2b" stroke-width="0.9"/>
<text x="628.7" y="146" font-size="7.5" text-anchor="middle" fill="#4d4d4d" stroke="#4d4d4d" stroke-width="0.2">0.5</text>
<line x1="657.7" y1="135.1" x2="657.7" y2="137.5" stroke="#2b2b2b" stroke-width="0.9"/>
<text x="657.7" y="146" font-size="7.5" text-anchor="middle" fill="#4d4d4d" stroke="#4d4d4d" stroke-width="0.2">1.0</text>
<text x="588.2" y="158" font-size="7.6" font-weight="bold" fill="#000" textLength="88.6" lengthAdjust="spacingAndGlyphs">Target Gene Expression</text>
<text x="1.9" y="165.7" font-size="16" fill="#000" textLength="20.5" lengthAdjust="spacingAndGlyphs">(D)</text>
<text x="57.9" y="188.2" font-size="10.2" font-weight="bold" fill="#000" textLength="41" lengthAdjust="spacingAndGlyphs">H&lt;N&lt;O /</text>
<text x="102.8" y="188.3" font-size="11.42" fill="#000" textLength="3.67" lengthAdjust="spacingAndGlyphs">(</text>
<text x="106.9" y="188.2" font-size="10.2" font-weight="bold" fill="#000" textLength="125.6" lengthAdjust="spacingAndGlyphs">K_H=0.219, K_TF=0.534</text>
<text x="234.5" y="188.3" font-size="11.42" fill="#000" textLength="3.67" lengthAdjust="spacingAndGlyphs">)</text>
<text transform="translate(11.9,249.3) rotate(-90)" font-size="9.6" font-weight="bold" text-anchor="middle" textLength="48.7" lengthAdjust="spacingAndGlyphs">Expression</text>
<line x1="35.2" y1="195.6" x2="35.2" y2="228.3" stroke="#2b2b2b" stroke-width="1.15"/>
<line x1="32.7" y1="197.1" x2="35.2" y2="197.1" stroke="#2b2b2b" stroke-width="0.9"/>
<text x="30.2" y="199.62" font-size="7" text-anchor="end" fill="#383838" stroke="#383838" stroke-width="0.2">1.00</text>
<line x1="32.7" y1="204.57" x2="35.2" y2="204.57" stroke="#2b2b2b" stroke-width="0.9"/>
<text x="30.2" y="207.09" font-size="7" text-anchor="end" fill="#383838" stroke="#383838" stroke-width="0.2">0.75</text>
<line x1="32.7" y1="212.05" x2="35.2" y2="212.05" stroke="#2b2b2b" stroke-width="0.9"/>
<text x="30.2" y="214.57" font-size="7" text-anchor="end" fill="#383838" stroke="#383838" stroke-width="0.2">0.50</text>
<line x1="32.7" y1="219.53" x2="35.2" y2="219.53" stroke="#2b2b2b" stroke-width="0.9"/>
<text x="30.2" y="222.05" font-size="7" text-anchor="end" fill="#383838" stroke="#383838" stroke-width="0.2">0.25</text>
<line x1="32.7" y1="227" x2="35.2" y2="227" stroke="#2b2b2b" stroke-width="0.9"/>
<text x="30.2" y="229.52" font-size="7" text-anchor="end" fill="#383838" stroke="#383838" stroke-width="0.2">0.00</text>
<rect x="190.85" y="196.15" width="14.3" height="31.6" fill="#fff" stroke="#111" stroke-width="1.1"/>
<text transform="translate(194.95,211.95) rotate(90)" font-size="8.47" text-anchor="middle" fill="#1a1a1a" textLength="24.2" lengthAdjust="spacingAndGlyphs">HIF1A</text>
<line x1="42.18" y1="227" x2="74.4" y2="227" stroke="#f01818" stroke-width="1.35"/>
<line x1="97.21" y1="197.1" x2="128.7" y2="197.1" stroke="#33e833" stroke-width="1.35"/>
<text x="149.15" y="210.12" font-size="8.12" text-anchor="end" fill="#262626" stroke="#262626" stroke-width="0.2">0.67</text>
<rect x="154.09" y="197.3" width="1.74" height="13.41" fill="#9494ff"/>
<rect x="154.09" y="210.71" width="1.74" height="16.39" fill="#5a5aff"/>
<rect x="159.57" y="197.3" width="1.74" height="13.41" fill="#9494ff"/>
<rect x="159.57" y="210.71" width="1.74" height="16.39" fill="#5a5aff"/>
<rect x="165.05" y="197.3" width="1.74" height="13.41" fill="#9494ff"/>
<rect x="165.05" y="210.71" width="1.74" height="16.39" fill="#5a5aff"/>
<rect x="170.53" y="197.3" width="1.74" height="13.41" fill="#9494ff"/>
<rect x="170.53" y="210.71" width="1.74" height="16.39" fill="#5a5aff"/>
<rect x="176.01" y="197.3" width="1.74" height="13.41" fill="#9494ff"/>
<rect x="176.01" y="210.71" width="1.74" height="16.39" fill="#5a5aff"/>
<rect x="181.48" y="197.3" width="1.74" height="13.41" fill="#9494ff"/>
<rect x="181.48" y="210.71" width="1.74" height="16.39" fill="#5a5aff"/>
<polyline points="150.85,197.3 154.09,197.3 154.09,227.1 155.83,227.1 155.83,197.3 159.57,197.3 159.57,227.1 161.31,227.1 161.31,197.3 165.05,197.3 165.05,227.1 166.79,227.1 166.79,197.3 170.53,197.3 170.53,227.1 172.27,227.1 172.27,197.3 176.01,197.3 176.01,227.1 177.75,227.1 177.75,197.3 181.48,197.3 181.48,227.1 183.22,227.1 183.22,197.3" fill="none" stroke="#1414f0" stroke-width="1" stroke-linejoin="round"/>
<line x1="149.45" y1="207.2" x2="183.22" y2="207.2" stroke="#1a1a1a" stroke-width="0.9" stroke-dasharray="4.2,3.6"/>
<line x1="35.2" y1="233.3" x2="35.2" y2="265.6" stroke="#2b2b2b" stroke-width="1.15"/>
<line x1="32.7" y1="234.7" x2="35.2" y2="234.7" stroke="#2b2b2b" stroke-width="0.9"/>
<text x="30.2" y="237.22" font-size="7" text-anchor="end" fill="#383838" stroke="#383838" stroke-width="0.2">1.00</text>
<line x1="32.7" y1="242.1" x2="35.2" y2="242.1" stroke="#2b2b2b" stroke-width="0.9"/>
<text x="30.2" y="244.62" font-size="7" text-anchor="end" fill="#383838" stroke="#383838" stroke-width="0.2">0.75</text>
<line x1="32.7" y1="249.5" x2="35.2" y2="249.5" stroke="#2b2b2b" stroke-width="0.9"/>
<text x="30.2" y="252.02" font-size="7" text-anchor="end" fill="#383838" stroke="#383838" stroke-width="0.2">0.50</text>
<line x1="32.7" y1="256.9" x2="35.2" y2="256.9" stroke="#2b2b2b" stroke-width="0.9"/>
<text x="30.2" y="259.42" font-size="7" text-anchor="end" fill="#383838" stroke="#383838" stroke-width="0.2">0.25</text>
<line x1="32.7" y1="264.3" x2="35.2" y2="264.3" stroke="#2b2b2b" stroke-width="0.9"/>
<text x="30.2" y="266.82" font-size="7" text-anchor="end" fill="#383838" stroke="#383838" stroke-width="0.2">0.00</text>
<rect x="190.85" y="233.85" width="14.3" height="31.2" fill="#fff" stroke="#111" stroke-width="1.1"/>
<text transform="translate(194.95,249.45) rotate(90)" font-size="8.47" text-anchor="middle" fill="#1a1a1a" textLength="11.95" lengthAdjust="spacingAndGlyphs">TF</text>
<line x1="42.18" y1="264.3" x2="74.4" y2="264.3" stroke="#f01818" stroke-width="1.35"/>
<polyline points="97.21,234.9 103.36,234.6 128.7,234.5" fill="none" stroke="#33e833" stroke-width="1.35" stroke-linejoin="round"/>
<text x="149.15" y="247.42" font-size="8.12" text-anchor="end" fill="#262626" stroke="#262626" stroke-width="0.2">0.67</text>
<polyline points="150.85,248.93 154.09,240.2 156.78,249.9 159.48,240.2 162.17,249.9 164.86,240.2 167.56,249.9 170.25,240.2 172.95,249.9 175.64,240.2 178.34,249.9 181.03,240.2 183.72,249.9" fill="none" stroke="#1414f0" stroke-width="1.2" stroke-linejoin="round"/>
<line x1="149.45" y1="244.5" x2="183.22" y2="244.5" stroke="#1a1a1a" stroke-width="0.9" stroke-dasharray="4.2,3.6"/>
<line x1="35.2" y1="271.3" x2="35.2" y2="303.4" stroke="#2b2b2b" stroke-width="1.15"/>
<line x1="32.7" y1="272" x2="35.2" y2="272" stroke="#2b2b2b" stroke-width="0.9"/>
<text x="30.2" y="274.52" font-size="7" text-anchor="end" fill="#383838" stroke="#383838" stroke-width="0.2">1.2</text>
<line x1="32.7" y1="282.2" x2="35.2" y2="282.2" stroke="#2b2b2b" stroke-width="0.9"/>
<text x="30.2" y="284.72" font-size="7" text-anchor="end" fill="#383838" stroke="#383838" stroke-width="0.2">1.1</text>
<line x1="32.7" y1="292.4" x2="35.2" y2="292.4" stroke="#2b2b2b" stroke-width="0.9"/>
<text x="30.2" y="294.92" font-size="7" text-anchor="end" fill="#383838" stroke="#383838" stroke-width="0.2">1.0</text>
<line x1="32.7" y1="302.6" x2="35.2" y2="302.6" stroke="#2b2b2b" stroke-width="0.9"/>
<text x="30.2" y="305.12" font-size="7" text-anchor="end" fill="#383838" stroke="#383838" stroke-width="0.2">0.9</text>
<rect x="190.85" y="271.85" width="14.3" height="31.1" fill="#fff" stroke="#111" stroke-width="1.1"/>
<text transform="translate(194.95,287.4) rotate(90)" font-size="8.47" text-anchor="middle" fill="#1a1a1a" textLength="24.47" lengthAdjust="spacingAndGlyphs">Target</text>
<line x1="42.18" y1="292.4" x2="74.4" y2="292.4" stroke="#f01818" stroke-width="1.35"/>
<polyline points="97.21,300.3 103.36,299.9 128.7,299.8" fill="none" stroke="#33e833" stroke-width="1.35" stroke-linejoin="round"/>
<text x="149.15" y="293.32" font-size="8.12" text-anchor="end" fill="#262626" stroke="#262626" stroke-width="0.2">1.02</text>
<polyline points="150.85,273.2 153.59,302.3 156.33,273.2 159.07,302.3 161.81,273.2 164.55,302.3 167.29,273.2 170.03,302.3 172.77,273.2 175.51,302.3 178.25,273.2 180.98,302.3 183.72,273.2" fill="none" stroke="#1414f0" stroke-width="1.2" stroke-linejoin="round"/>
<line x1="149.45" y1="290.4" x2="183.22" y2="290.4" stroke="#1a1a1a" stroke-width="0.9" stroke-dasharray="4.2,3.6"/>
<line x1="34.6" y1="303.4" x2="189.8" y2="303.4" stroke="#2b2b2b" stroke-width="1.2"/>
<line x1="38.2" y1="303.4" x2="38.2" y2="306" stroke="#2b2b2b" stroke-width="0.9"/>
<text x="38.2" y="313.6" font-size="7" text-anchor="middle" fill="#4d4d4d" stroke="#4d4d4d" stroke-width="0.2">-10</text>
<line x1="74.4" y1="303.4" x2="74.4" y2="306" stroke="#2b2b2b" stroke-width="0.9"/>
<text x="74.4" y="313.6" font-size="7" text-anchor="middle" fill="#4d4d4d" stroke="#4d4d4d" stroke-width="0.2">0</text>
<line x1="110.6" y1="303.4" x2="110.6" y2="306" stroke="#2b2b2b" stroke-width="0.9"/>
<text x="110.6" y="313.6" font-size="7" text-anchor="middle" fill="#4d4d4d" stroke="#4d4d4d" stroke-width="0.2">10</text>
<line x1="146.8" y1="303.4" x2="146.8" y2="306" stroke="#2b2b2b" stroke-width="0.9"/>
<text x="146.8" y="313.6" font-size="7" text-anchor="middle" fill="#4d4d4d" stroke="#4d4d4d" stroke-width="0.2">20</text>
<line x1="183" y1="303.4" x2="183" y2="306" stroke="#2b2b2b" stroke-width="0.9"/>
<text x="183" y="313.6" font-size="7" text-anchor="middle" fill="#4d4d4d" stroke="#4d4d4d" stroke-width="0.2">30</text>
<text x="102" y="324.6" font-size="9.2" font-weight="bold" fill="#000" textLength="20.9" lengthAdjust="spacingAndGlyphs">Time</text>
<line x1="222.3" y1="225.1" x2="253.4" y2="225.1" stroke="#f01818" stroke-width="1.35"/>
<text x="262.8" y="228.05" font-size="8.2" font-weight="bold" fill="#000">N</text>
<line x1="222.3" y1="241.2" x2="253.4" y2="241.2" stroke="#33e833" stroke-width="1.35"/>
<text x="262.8" y="244.15" font-size="8.2" font-weight="bold" fill="#000">H</text>
<line x1="222.3" y1="256.9" x2="253.4" y2="256.9" stroke="#1414f0" stroke-width="1.35"/>
<text x="262.8" y="259.85" font-size="8.2" font-weight="bold" fill="#000">O</text>
<rect x="217.6" y="284.75" width="51.9" height="2.3" fill="#f01818"/>
<text x="271" y="289.27" font-size="7.7" fill="#4d4d4d" stroke="#4d4d4d" stroke-width="0.2">1</text>
<text x="210" y="288.55" font-size="7.37" font-weight="bold" fill="#000" textLength="5.36" lengthAdjust="spacingAndGlyphs">N</text>
<rect x="217.6" y="291.25" width="48.27" height="2.3" fill="#33e833"/>
<text x="267.37" y="295.77" font-size="7.7" fill="#4d4d4d" stroke="#4d4d4d" stroke-width="0.2">0.93</text>
<text x="210" y="295.05" font-size="7.37" font-weight="bold" fill="#000" textLength="5.36" lengthAdjust="spacingAndGlyphs">H</text>
<rect x="217.6" y="297.45" width="52.94" height="2.3" fill="#1414f0"/>
<text x="272.04" y="301.97" font-size="7.7" fill="#4d4d4d" stroke="#4d4d4d" stroke-width="0.2">1.02</text>
<text x="210" y="301.25" font-size="7.37" font-weight="bold" fill="#000" textLength="5.36" lengthAdjust="spacingAndGlyphs">O</text>
<line x1="214.4" y1="304" x2="292.6" y2="304" stroke="#2b2b2b" stroke-width="1.15"/>
<line x1="217.6" y1="304" x2="217.6" y2="306.4" stroke="#2b2b2b" stroke-width="0.9"/>
<text x="217.6" y="314.4" font-size="6.7" text-anchor="middle" fill="#4d4d4d" stroke="#4d4d4d" stroke-width="0.2">0.0</text>
<line x1="243.55" y1="304" x2="243.55" y2="306.4" stroke="#2b2b2b" stroke-width="0.9"/>
<text x="243.55" y="314.4" font-size="6.7" text-anchor="middle" fill="#4d4d4d" stroke="#4d4d4d" stroke-width="0.2">0.5</text>
<line x1="269.5" y1="304" x2="269.5" y2="306.4" stroke="#2b2b2b" stroke-width="0.9"/>
<text x="269.5" y="314.4" font-size="6.7" text-anchor="middle" fill="#4d4d4d" stroke="#4d4d4d" stroke-width="0.2">1.0</text>
<text x="207" y="324.5" font-size="7.2" font-weight="bold" fill="#000" textLength="81.8" lengthAdjust="spacingAndGlyphs">Target Gene Expression</text>
<text x="2.5" y="366.3" font-size="16" fill="#000" textLength="18.7" lengthAdjust="spacingAndGlyphs">(E)</text>
<text x="58.8" y="394.2" font-size="10.2" font-weight="bold" fill="#000" textLength="41.5" lengthAdjust="spacingAndGlyphs">N&lt;H&lt;O /</text>
<text x="104.2" y="394.3" font-size="11.42" fill="#000" textLength="3.67" lengthAdjust="spacingAndGlyphs">(</text>
<text x="108.4" y="394.2" font-size="10.2" font-weight="bold" fill="#000" textLength="125" lengthAdjust="spacingAndGlyphs">K_H=0.848, K_TF=0.115</text>
<text x="234.8" y="394.3" font-size="11.42" fill="#000" textLength="3.67" lengthAdjust="spacingAndGlyphs">)</text>
<text transform="translate(14.3,455.4) rotate(-90)" font-size="9.6" font-weight="bold" text-anchor="middle" textLength="48.7" lengthAdjust="spacingAndGlyphs">Expression</text>
<line x1="37.4" y1="401.8" x2="37.4" y2="433.9" stroke="#2b2b2b" stroke-width="1.15"/>
<line x1="34.9" y1="403.2" x2="37.4" y2="403.2" stroke="#2b2b2b" stroke-width="0.9"/>
<text x="32.4" y="405.72" font-size="7" text-anchor="end" fill="#383838" stroke="#383838" stroke-width="0.2">1.00</text>
<line x1="34.9" y1="410.57" x2="37.4" y2="410.57" stroke="#2b2b2b" stroke-width="0.9"/>
<text x="32.4" y="413.09" font-size="7" text-anchor="end" fill="#383838" stroke="#383838" stroke-width="0.2">0.75</text>
<line x1="34.9" y1="417.95" x2="37.4" y2="417.95" stroke="#2b2b2b" stroke-width="0.9"/>
<text x="32.4" y="420.47" font-size="7" text-anchor="end" fill="#383838" stroke="#383838" stroke-width="0.2">0.50</text>
<line x1="34.9" y1="425.32" x2="37.4" y2="425.32" stroke="#2b2b2b" stroke-width="0.9"/>
<text x="32.4" y="427.84" font-size="7" text-anchor="end" fill="#383838" stroke="#383838" stroke-width="0.2">0.25</text>
<line x1="34.9" y1="432.7" x2="37.4" y2="432.7" stroke="#2b2b2b" stroke-width="0.9"/>
<text x="32.4" y="435.22" font-size="7" text-anchor="end" fill="#383838" stroke="#383838" stroke-width="0.2">0.00</text>
<rect x="193.35" y="402.35" width="13.7" height="31" fill="#fff" stroke="#111" stroke-width="1.1"/>
<text transform="translate(197.27,417.85) rotate(90)" font-size="8.14" text-anchor="middle" fill="#1a1a1a" textLength="23.75" lengthAdjust="spacingAndGlyphs">HIF1A</text>
<line x1="43.8" y1="432.7" x2="76.2" y2="432.7" stroke="#f01818" stroke-width="1.35"/>
<line x1="99.13" y1="403.2" x2="130.8" y2="403.2" stroke="#33e833" stroke-width="1.35"/>
<text x="151.38" y="415.72" font-size="8.12" text-anchor="end" fill="#262626" stroke="#262626" stroke-width="0.2">0.67</text>
<rect x="156.33" y="403.1" width="1.75" height="13.23" fill="#9494ff"/>
<rect x="156.33" y="416.33" width="1.75" height="16.17" fill="#5a5aff"/>
<rect x="161.84" y="403.1" width="1.75" height="13.23" fill="#9494ff"/>
<rect x="161.84" y="416.33" width="1.75" height="16.17" fill="#5a5aff"/>
<rect x="167.35" y="403.1" width="1.75" height="13.23" fill="#9494ff"/>
<rect x="167.35" y="416.33" width="1.75" height="16.17" fill="#5a5aff"/>
<rect x="172.86" y="403.1" width="1.75" height="13.23" fill="#9494ff"/>
<rect x="172.86" y="416.33" width="1.75" height="16.17" fill="#5a5aff"/>
<rect x="178.37" y="403.1" width="1.75" height="13.23" fill="#9494ff"/>
<rect x="178.37" y="416.33" width="1.75" height="16.17" fill="#5a5aff"/>
<rect x="183.87" y="403.1" width="1.75" height="13.23" fill="#9494ff"/>
<rect x="183.87" y="416.33" width="1.75" height="16.17" fill="#5a5aff"/>
<polyline points="153.08,403.1 156.33,403.1 156.33,432.5 158.09,432.5 158.09,403.1 161.84,403.1 161.84,432.5 163.59,432.5 163.59,403.1 167.35,403.1 167.35,432.5 169.1,432.5 169.1,403.1 172.86,403.1 172.86,432.5 174.61,432.5 174.61,403.1 178.37,403.1 178.37,432.5 180.12,432.5 180.12,403.1 183.87,403.1 183.87,432.5 185.63,432.5 185.63,403.1" fill="none" stroke="#1414f0" stroke-width="1" stroke-linejoin="round"/>
<line x1="151.68" y1="412.8" x2="185.63" y2="412.8" stroke="#1a1a1a" stroke-width="0.9" stroke-dasharray="4.2,3.6"/>
<line x1="37.4" y1="439.9" x2="37.4" y2="471.4" stroke="#2b2b2b" stroke-width="1.15"/>
<line x1="34.9" y1="443.6" x2="37.4" y2="443.6" stroke="#2b2b2b" stroke-width="0.9"/>
<text x="32.4" y="446.12" font-size="7" text-anchor="end" fill="#383838" stroke="#383838" stroke-width="0.2">0.6</text>
<line x1="34.9" y1="452.6" x2="37.4" y2="452.6" stroke="#2b2b2b" stroke-width="0.9"/>
<text x="32.4" y="455.12" font-size="7" text-anchor="end" fill="#383838" stroke="#383838" stroke-width="0.2">0.4</text>
<line x1="34.9" y1="461.6" x2="37.4" y2="461.6" stroke="#2b2b2b" stroke-width="0.9"/>
<text x="32.4" y="464.12" font-size="7" text-anchor="end" fill="#383838" stroke="#383838" stroke-width="0.2">0.2</text>
<line x1="34.9" y1="470.6" x2="37.4" y2="470.6" stroke="#2b2b2b" stroke-width="0.9"/>
<text x="32.4" y="473.12" font-size="7" text-anchor="end" fill="#383838" stroke="#383838" stroke-width="0.2">0.0</text>
<rect x="193.35" y="440.45" width="13.7" height="30.4" fill="#fff" stroke="#111" stroke-width="1.1"/>
<text transform="translate(197.27,455.65) rotate(90)" font-size="8.14" text-anchor="middle" fill="#1a1a1a" textLength="11.65" lengthAdjust="spacingAndGlyphs">TF</text>
<line x1="43.8" y1="470.6" x2="76.2" y2="470.6" stroke="#f01818" stroke-width="1.35"/>
<polyline points="99.13,440.8 105.32,440.6 130.8,440.5" fill="none" stroke="#33e833" stroke-width="1.35" stroke-linejoin="round"/>
<text x="151.38" y="453.82" font-size="8.12" text-anchor="end" fill="#262626" stroke="#262626" stroke-width="0.2">0.44</text>
<polyline points="153.08,455.28 156.33,447 159.04,456.2 161.75,447 164.46,456.2 167.16,447 169.87,456.2 172.58,447 175.29,456.2 178,447 180.71,456.2 183.42,447 186.13,456.2" fill="none" stroke="#1414f0" stroke-width="1.2" stroke-linejoin="round"/>
<line x1="151.68" y1="450.9" x2="185.63" y2="450.9" stroke="#1a1a1a" stroke-width="0.9" stroke-dasharray="4.2,3.6"/>
<line x1="37.4" y1="477.2" x2="37.4" y2="509.3" stroke="#2b2b2b" stroke-width="1.15"/>
<line x1="34.9" y1="481.5" x2="37.4" y2="481.5" stroke="#2b2b2b" stroke-width="0.9"/>
<text x="32.4" y="484.02" font-size="7" text-anchor="end" fill="#383838" stroke="#383838" stroke-width="0.2">1.6</text>
<line x1="34.9" y1="490.33" x2="37.4" y2="490.33" stroke="#2b2b2b" stroke-width="0.9"/>
<text x="32.4" y="492.85" font-size="7" text-anchor="end" fill="#383838" stroke="#383838" stroke-width="0.2">1.4</text>
<line x1="34.9" y1="499.17" x2="37.4" y2="499.17" stroke="#2b2b2b" stroke-width="0.9"/>
<text x="32.4" y="501.69" font-size="7" text-anchor="end" fill="#383838" stroke="#383838" stroke-width="0.2">1.2</text>
<line x1="34.9" y1="508" x2="37.4" y2="508" stroke="#2b2b2b" stroke-width="0.9"/>
<text x="32.4" y="510.52" font-size="7" text-anchor="end" fill="#383838" stroke="#383838" stroke-width="0.2">1.0</text>
<rect x="193.35" y="477.75" width="13.7" height="31" fill="#fff" stroke="#111" stroke-width="1.1"/>
<text transform="translate(197.27,493.25) rotate(90)" font-size="8.14" text-anchor="middle" fill="#1a1a1a" textLength="24.4" lengthAdjust="spacingAndGlyphs">Target</text>
<line x1="43.8" y1="508" x2="76.2" y2="508" stroke="#f01818" stroke-width="1.35"/>
<line x1="99.13" y1="493.3" x2="130.8" y2="493.3" stroke="#33e833" stroke-width="1.35"/>
<text x="151.38" y="486.22" font-size="8.12" text-anchor="end" fill="#262626" stroke="#262626" stroke-width="0.2">1.55</text>
<polyline points="153.08,478.5 155.83,487.7 158.59,478.5 161.34,487.7 164.09,478.5 166.85,487.7 169.6,478.5 172.36,487.7 175.11,478.5 177.87,487.7 180.62,478.5 183.37,487.7 186.13,478.5" fill="none" stroke="#1414f0" stroke-width="1.2" stroke-linejoin="round"/>
<line x1="151.68" y1="483.3" x2="185.63" y2="483.3" stroke="#1a1a1a" stroke-width="0.9" stroke-dasharray="4.2,3.6"/>
<line x1="36.8" y1="509.3" x2="192.3" y2="509.3" stroke="#2b2b2b" stroke-width="1.2"/>
<line x1="39.8" y1="509.3" x2="39.8" y2="511.9" stroke="#2b2b2b" stroke-width="0.9"/>
<text x="39.8" y="519.4" font-size="7" text-anchor="middle" fill="#4d4d4d" stroke="#4d4d4d" stroke-width="0.2">-10</text>
<line x1="76.2" y1="509.3" x2="76.2" y2="511.9" stroke="#2b2b2b" stroke-width="0.9"/>
<text x="76.2" y="519.4" font-size="7" text-anchor="middle" fill="#4d4d4d" stroke="#4d4d4d" stroke-width="0.2">0</text>
<line x1="112.6" y1="509.3" x2="112.6" y2="511.9" stroke="#2b2b2b" stroke-width="0.9"/>
<text x="112.6" y="519.4" font-size="7" text-anchor="middle" fill="#4d4d4d" stroke="#4d4d4d" stroke-width="0.2">10</text>
<line x1="149" y1="509.3" x2="149" y2="511.9" stroke="#2b2b2b" stroke-width="0.9"/>
<text x="149" y="519.4" font-size="7" text-anchor="middle" fill="#4d4d4d" stroke="#4d4d4d" stroke-width="0.2">20</text>
<line x1="185.4" y1="509.3" x2="185.4" y2="511.9" stroke="#2b2b2b" stroke-width="0.9"/>
<text x="185.4" y="519.4" font-size="7" text-anchor="middle" fill="#4d4d4d" stroke="#4d4d4d" stroke-width="0.2">30</text>
<text x="104.5" y="530.8" font-size="9.2" font-weight="bold" fill="#000" textLength="21.2" lengthAdjust="spacingAndGlyphs">Time</text>
<line x1="224.3" y1="430.7" x2="255.3" y2="430.7" stroke="#f01818" stroke-width="1.35"/>
<text x="264" y="433.65" font-size="8.2" font-weight="bold" fill="#000">N</text>
<line x1="224.3" y1="447" x2="255.3" y2="447" stroke="#33e833" stroke-width="1.35"/>
<text x="264" y="449.95" font-size="8.2" font-weight="bold" fill="#000">H</text>
<line x1="224.3" y1="463" x2="255.3" y2="463" stroke="#1414f0" stroke-width="1.35"/>
<text x="264" y="465.95" font-size="8.2" font-weight="bold" fill="#000">O</text>
<rect x="219.3" y="491.05" width="34.5" height="2.3" fill="#f01818"/>
<text x="255.3" y="495.57" font-size="7.7" fill="#4d4d4d" stroke="#4d4d4d" stroke-width="0.2">1</text>
<text x="211.6" y="494.85" font-size="7.37" font-weight="bold" fill="#000" textLength="5.36" lengthAdjust="spacingAndGlyphs">N</text>
<rect x="219.3" y="497.05" width="46.23" height="2.3" fill="#33e833"/>
<text x="267.03" y="501.57" font-size="7.7" fill="#4d4d4d" stroke="#4d4d4d" stroke-width="0.2">1.34</text>
<text x="211.6" y="500.85" font-size="7.37" font-weight="bold" fill="#000" textLength="5.36" lengthAdjust="spacingAndGlyphs">H</text>
<rect x="219.3" y="503.65" width="53.48" height="2.3" fill="#1414f0"/>
<text x="274.28" y="508.17" font-size="7.7" fill="#4d4d4d" stroke="#4d4d4d" stroke-width="0.2">1.55</text>
<text x="211.6" y="507.45" font-size="7.37" font-weight="bold" fill="#000" textLength="5.36" lengthAdjust="spacingAndGlyphs">O</text>
<line x1="215.9" y1="508.7" x2="293.4" y2="508.7" stroke="#2b2b2b" stroke-width="1.15"/>
<line x1="219.3" y1="508.7" x2="219.3" y2="511.1" stroke="#2b2b2b" stroke-width="0.9"/>
<text x="219.3" y="519.6" font-size="6.7" text-anchor="middle" fill="#4d4d4d" stroke="#4d4d4d" stroke-width="0.2">0</text>
<line x1="253.8" y1="508.7" x2="253.8" y2="511.1" stroke="#2b2b2b" stroke-width="0.9"/>
<text x="253.8" y="519.6" font-size="6.7" text-anchor="middle" fill="#4d4d4d" stroke="#4d4d4d" stroke-width="0.2">1</text>
<line x1="288.3" y1="508.7" x2="288.3" y2="511.1" stroke="#2b2b2b" stroke-width="0.9"/>
<text x="288.3" y="519.6" font-size="6.7" text-anchor="middle" fill="#4d4d4d" stroke="#4d4d4d" stroke-width="0.2">2</text>
<text x="207.8" y="531" font-size="7.2" font-weight="bold" fill="#000" textLength="82.9" lengthAdjust="spacingAndGlyphs">Target Gene Expression</text>
<text x="0.3" y="553.9" font-size="16" fill="#000" textLength="17.7" lengthAdjust="spacingAndGlyphs">(F)</text>
<text x="67.7" y="582.3" font-size="10.8" font-weight="bold" fill="#000" textLength="47.2" lengthAdjust="spacingAndGlyphs">N&lt;O&lt;H /</text>
<text x="120" y="582.4" font-size="12.1" fill="#000" textLength="3.89" lengthAdjust="spacingAndGlyphs">(</text>
<text x="124.4" y="582.3" font-size="10.8" font-weight="bold" fill="#000" textLength="131.8" lengthAdjust="spacingAndGlyphs">K_H=1.476, K_TF=0.115</text>
<text x="257.7" y="582.4" font-size="12.1" fill="#000" textLength="3.89" lengthAdjust="spacingAndGlyphs">)</text>
<text transform="translate(19.9,648) rotate(-90)" font-size="10.6" font-weight="bold" text-anchor="middle" textLength="53.1" lengthAdjust="spacingAndGlyphs">Expression</text>
<line x1="43.7" y1="589.1" x2="43.7" y2="625.2" stroke="#2b2b2b" stroke-width="1.15"/>
<line x1="41.2" y1="590.9" x2="43.7" y2="590.9" stroke="#2b2b2b" stroke-width="0.9"/>
<text x="38.7" y="593.6" font-size="7.5" text-anchor="end" fill="#383838" stroke="#383838" stroke-width="0.2">1.00</text>
<line x1="41.2" y1="599" x2="43.7" y2="599" stroke="#2b2b2b" stroke-width="0.9"/>
<text x="38.7" y="601.7" font-size="7.5" text-anchor="end" fill="#383838" stroke="#383838" stroke-width="0.2">0.75</text>
<line x1="41.2" y1="607.1" x2="43.7" y2="607.1" stroke="#2b2b2b" stroke-width="0.9"/>
<text x="38.7" y="609.8" font-size="7.5" text-anchor="end" fill="#383838" stroke="#383838" stroke-width="0.2">0.50</text>
<line x1="41.2" y1="615.2" x2="43.7" y2="615.2" stroke="#2b2b2b" stroke-width="0.9"/>
<text x="38.7" y="617.9" font-size="7.5" text-anchor="end" fill="#383838" stroke="#383838" stroke-width="0.2">0.25</text>
<line x1="41.2" y1="623.3" x2="43.7" y2="623.3" stroke="#2b2b2b" stroke-width="0.9"/>
<text x="38.7" y="626" font-size="7.5" text-anchor="end" fill="#383838" stroke="#383838" stroke-width="0.2">0.00</text>
<rect x="213.25" y="589.65" width="15.5" height="35" fill="#fff" stroke="#111" stroke-width="1.1"/>
<text transform="translate(217.71,607.15) rotate(90)" font-size="9.13" text-anchor="middle" fill="#1a1a1a" textLength="26.71" lengthAdjust="spacingAndGlyphs">HIF1A</text>
<line x1="51.39" y1="623.3" x2="86.5" y2="623.3" stroke="#f01818" stroke-width="1.4"/>
<line x1="111.35" y1="590.9" x2="145.68" y2="590.9" stroke="#33e833" stroke-width="1.4"/>
<text x="168.12" y="604.73" font-size="8.7" text-anchor="end" fill="#262626" stroke="#262626" stroke-width="0.2">0.67</text>
<rect x="173.3" y="591.1" width="1.99" height="14.71" fill="#9494ff"/>
<rect x="173.3" y="605.81" width="1.99" height="17.99" fill="#5a5aff"/>
<rect x="179.27" y="591.1" width="1.99" height="14.71" fill="#9494ff"/>
<rect x="179.27" y="605.81" width="1.99" height="17.99" fill="#5a5aff"/>
<rect x="185.24" y="591.1" width="1.99" height="14.71" fill="#9494ff"/>
<rect x="185.24" y="605.81" width="1.99" height="17.99" fill="#5a5aff"/>
<rect x="191.21" y="591.1" width="1.99" height="14.71" fill="#9494ff"/>
<rect x="191.21" y="605.81" width="1.99" height="17.99" fill="#5a5aff"/>
<rect x="197.18" y="591.1" width="1.99" height="14.71" fill="#9494ff"/>
<rect x="197.18" y="605.81" width="1.99" height="17.99" fill="#5a5aff"/>
<rect x="203.15" y="591.1" width="1.99" height="14.71" fill="#9494ff"/>
<rect x="203.15" y="605.81" width="1.99" height="17.99" fill="#5a5aff"/>
<polyline points="169.82,591.1 173.3,591.1 173.3,623.8 175.29,623.8 175.29,591.1 179.27,591.1 179.27,623.8 181.26,623.8 181.26,591.1 185.24,591.1 185.24,623.8 187.23,623.8 187.23,591.1 191.21,591.1 191.21,623.8 193.2,623.8 193.2,591.1 197.18,591.1 197.18,623.8 199.17,623.8 199.17,591.1 203.15,591.1 203.15,623.8 205.14,623.8 205.14,591.1" fill="none" stroke="#1414f0" stroke-width="1" stroke-linejoin="round"/>
<line x1="168.42" y1="601.6" x2="205.14" y2="601.6" stroke="#1a1a1a" stroke-width="0.9" stroke-dasharray="4.2,3.6"/>
<line x1="43.7" y1="630.7" x2="43.7" y2="666" stroke="#2b2b2b" stroke-width="1.15"/>
<line x1="41.2" y1="636.6" x2="43.7" y2="636.6" stroke="#2b2b2b" stroke-width="0.9"/>
<text x="38.7" y="639.3" font-size="7.5" text-anchor="end" fill="#383838" stroke="#383838" stroke-width="0.2">0.15</text>
<line x1="41.2" y1="645.9" x2="43.7" y2="645.9" stroke="#2b2b2b" stroke-width="0.9"/>
<text x="38.7" y="648.6" font-size="7.5" text-anchor="end" fill="#383838" stroke="#383838" stroke-width="0.2">0.10</text>
<line x1="41.2" y1="655.2" x2="43.7" y2="655.2" stroke="#2b2b2b" stroke-width="0.9"/>
<text x="38.7" y="657.9" font-size="7.5" text-anchor="end" fill="#383838" stroke="#383838" stroke-width="0.2">0.05</text>
<line x1="41.2" y1="664.5" x2="43.7" y2="664.5" stroke="#2b2b2b" stroke-width="0.9"/>
<text x="38.7" y="667.2" font-size="7.5" text-anchor="end" fill="#383838" stroke="#383838" stroke-width="0.2">0.00</text>
<rect x="213.25" y="631.25" width="15.5" height="34.2" fill="#fff" stroke="#111" stroke-width="1.1"/>
<text transform="translate(217.71,648.35) rotate(90)" font-size="9.13" text-anchor="middle" fill="#1a1a1a" textLength="13.06" lengthAdjust="spacingAndGlyphs">TF</text>
<line x1="51.39" y1="664.5" x2="86.5" y2="664.5" stroke="#f01818" stroke-width="1.4"/>
<polyline points="111.35,632.4 118.06,632 145.68,631.6" fill="none" stroke="#33e833" stroke-width="1.4" stroke-linejoin="round"/>
<text x="168.12" y="646.33" font-size="8.7" text-anchor="end" fill="#262626" stroke="#262626" stroke-width="0.2">0.12</text>
<polyline points="169.82,647.69 173.34,637.7 176.28,648.8 179.21,637.7 182.15,648.8 185.09,637.7 188.02,648.8 190.96,637.7 193.89,648.8 196.83,637.7 199.77,648.8 202.7,637.7 205.64,648.8" fill="none" stroke="#1414f0" stroke-width="1.2" stroke-linejoin="round"/>
<line x1="168.42" y1="643.2" x2="205.14" y2="643.2" stroke="#1a1a1a" stroke-width="0.9" stroke-dasharray="4.2,3.6"/>
<line x1="43.7" y1="671.8" x2="43.7" y2="706.5" stroke="#2b2b2b" stroke-width="1.15"/>
<line x1="41.2" y1="671.7" x2="43.7" y2="671.7" stroke="#2b2b2b" stroke-width="0.9"/>
<text x="38.7" y="674.4" font-size="7.5" text-anchor="end" fill="#383838" stroke="#383838" stroke-width="0.2">1.7</text>
<line x1="41.2" y1="681.3" x2="43.7" y2="681.3" stroke="#2b2b2b" stroke-width="0.9"/>
<text x="38.7" y="684" font-size="7.5" text-anchor="end" fill="#383838" stroke="#383838" stroke-width="0.2">1.5</text>
<line x1="41.2" y1="690.9" x2="43.7" y2="690.9" stroke="#2b2b2b" stroke-width="0.9"/>
<text x="38.7" y="693.6" font-size="7.5" text-anchor="end" fill="#383838" stroke="#383838" stroke-width="0.2">1.3</text>
<line x1="41.2" y1="700.5" x2="43.7" y2="700.5" stroke="#2b2b2b" stroke-width="0.9"/>
<text x="38.7" y="703.2" font-size="7.5" text-anchor="end" fill="#383838" stroke="#383838" stroke-width="0.2">1.1</text>
<rect x="213.25" y="672.35" width="15.5" height="33.6" fill="#fff" stroke="#111" stroke-width="1.1"/>
<text transform="translate(217.71,689.15) rotate(90)" font-size="9.13" text-anchor="middle" fill="#1a1a1a" textLength="26.37" lengthAdjust="spacingAndGlyphs">Target</text>
<line x1="51.39" y1="705.3" x2="86.5" y2="705.3" stroke="#f01818" stroke-width="1.4"/>
<polyline points="111.35,673.4 118.06,673.1 145.68,672.9" fill="none" stroke="#33e833" stroke-width="1.4" stroke-linejoin="round"/>
<text x="168.12" y="689.43" font-size="8.7" text-anchor="end" fill="#262626" stroke="#262626" stroke-width="0.2">1.39</text>
<polyline points="169.82,683.8 170.12,683.92 170.42,684.28 170.71,684.83 171.01,685.53 171.31,686.3 171.61,687.07 171.91,687.77 172.21,688.32 172.5,688.68 172.8,688.8 173.1,688.68 173.4,688.32 173.7,687.77 174,687.07 174.3,686.3 174.59,685.53 174.89,684.83 175.19,684.28 175.49,683.92 175.79,683.8 176.09,683.92 176.39,684.28 176.68,684.83 176.98,685.53 177.28,686.3 177.58,687.07 177.88,687.77 178.18,688.32 178.48,688.68 178.77,688.8 179.07,688.68 179.37,688.32 179.67,687.77 179.97,687.07 180.27,686.3 180.56,685.53 180.86,684.83 181.16,684.28 181.46,683.92 181.76,683.8 182.06,683.92 182.36,684.28 182.65,684.83 182.95,685.53 183.25,686.3 183.55,687.07 183.85,687.77 184.15,688.32 184.45,688.68 184.74,688.8 185.04,688.68 185.34,688.32 185.64,687.77 185.94,687.07 186.24,686.3 186.53,685.53 186.83,684.83 187.13,684.28 187.43,683.92 187.73,683.8 188.03,683.92 188.33,684.28 188.62,684.83 188.92,685.53 189.22,686.3 189.52,687.07 189.82,687.77 190.12,688.32 190.42,688.68 190.71,688.8 191.01,688.68 191.31,688.32 191.61,687.77 191.91,687.07 192.21,686.3 192.5,685.53 192.8,684.83 193.1,684.28 193.4,683.92 193.7,683.8 194,683.92 194.3,684.28 194.59,684.83 194.89,685.53 195.19,686.3 195.49,687.07 195.79,687.77 196.09,688.32 196.39,688.68 196.68,688.8 196.98,688.68 197.28,688.32 197.58,687.77 197.88,687.07 198.18,686.3 198.47,685.53 198.77,684.83 199.07,684.28 199.37,683.92 199.67,683.8 199.97,683.92 200.27,684.28 200.56,684.83 200.86,685.53 201.16,686.3 201.46,687.07 201.76,687.77 202.06,688.32 202.36,688.68 202.65,688.8 202.95,688.68 203.25,688.32 203.55,687.77 203.85,687.07 204.15,686.3 204.44,685.53 204.74,684.83 205.04,684.28 205.34,683.92 205.64,683.8" fill="none" stroke="#1414f0" stroke-width="1.3" stroke-linejoin="round"/>
<line x1="168.42" y1="686.3" x2="205.14" y2="686.3" stroke="#1a1a1a" stroke-width="0.9" stroke-dasharray="4.2,3.6"/>
<line x1="43.1" y1="706.5" x2="212.2" y2="706.5" stroke="#2b2b2b" stroke-width="1.2"/>
<line x1="47.05" y1="706.5" x2="47.05" y2="709.1" stroke="#2b2b2b" stroke-width="0.9"/>
<text x="47.05" y="717.6" font-size="7.5" text-anchor="middle" fill="#4d4d4d" stroke="#4d4d4d" stroke-width="0.2">-10</text>
<line x1="86.5" y1="706.5" x2="86.5" y2="709.1" stroke="#2b2b2b" stroke-width="0.9"/>
<text x="86.5" y="717.6" font-size="7.5" text-anchor="middle" fill="#4d4d4d" stroke="#4d4d4d" stroke-width="0.2">0</text>
<line x1="125.95" y1="706.5" x2="125.95" y2="709.1" stroke="#2b2b2b" stroke-width="0.9"/>
<text x="125.95" y="717.6" font-size="7.5" text-anchor="middle" fill="#4d4d4d" stroke="#4d4d4d" stroke-width="0.2">10</text>
<line x1="165.4" y1="706.5" x2="165.4" y2="709.1" stroke="#2b2b2b" stroke-width="0.9"/>
<text x="165.4" y="717.6" font-size="7.5" text-anchor="middle" fill="#4d4d4d" stroke="#4d4d4d" stroke-width="0.2">20</text>
<line x1="204.85" y1="706.5" x2="204.85" y2="709.1" stroke="#2b2b2b" stroke-width="0.9"/>
<text x="204.85" y="717.6" font-size="7.5" text-anchor="middle" fill="#4d4d4d" stroke="#4d4d4d" stroke-width="0.2">30</text>
<text x="117.7" y="729.9" font-size="10" font-weight="bold" fill="#000" textLength="22.1" lengthAdjust="spacingAndGlyphs">Time</text>
<line x1="247.6" y1="621" x2="281.5" y2="621" stroke="#f01818" stroke-width="1.35"/>
<text x="291.2" y="624.17" font-size="8.8" font-weight="bold" fill="#000">N</text>
<line x1="247.6" y1="639.1" x2="281.5" y2="639.1" stroke="#33e833" stroke-width="1.35"/>
<text x="291.2" y="642.27" font-size="8.8" font-weight="bold" fill="#000">H</text>
<line x1="247.6" y1="656.3" x2="281.5" y2="656.3" stroke="#1414f0" stroke-width="1.35"/>
<text x="291.2" y="659.47" font-size="8.8" font-weight="bold" fill="#000">O</text>
<rect x="242.6" y="686.95" width="34.9" height="2.5" fill="#f01818"/>
<text x="279" y="691.78" font-size="8.28" fill="#4d4d4d" stroke="#4d4d4d" stroke-width="0.2">1</text>
<text x="234.3" y="691.05" font-size="7.92" font-weight="bold" fill="#000" textLength="5.76" lengthAdjust="spacingAndGlyphs">N</text>
<rect x="242.6" y="694.15" width="58.28" height="2.5" fill="#33e833"/>
<text x="302.38" y="698.98" font-size="8.28" fill="#4d4d4d" stroke="#4d4d4d" stroke-width="0.2">1.67</text>
<text x="234.3" y="698.25" font-size="7.92" font-weight="bold" fill="#000" textLength="5.76" lengthAdjust="spacingAndGlyphs">H</text>
<rect x="242.6" y="700.75" width="48.51" height="2.5" fill="#1414f0"/>
<text x="292.61" y="705.58" font-size="8.28" fill="#4d4d4d" stroke="#4d4d4d" stroke-width="0.2">1.39</text>
<text x="234.3" y="704.85" font-size="7.92" font-weight="bold" fill="#000" textLength="5.76" lengthAdjust="spacingAndGlyphs">O</text>
<line x1="238.5" y1="707" x2="323.6" y2="707" stroke="#2b2b2b" stroke-width="1.15"/>
<line x1="242.6" y1="707" x2="242.6" y2="709.4" stroke="#2b2b2b" stroke-width="0.9"/>
<text x="242.6" y="718.4" font-size="7.2" text-anchor="middle" fill="#4d4d4d" stroke="#4d4d4d" stroke-width="0.2">0</text>
<line x1="277.5" y1="707" x2="277.5" y2="709.4" stroke="#2b2b2b" stroke-width="0.9"/>
<text x="277.5" y="718.4" font-size="7.2" text-anchor="middle" fill="#4d4d4d" stroke="#4d4d4d" stroke-width="0.2">1</text>
<line x1="312.4" y1="707" x2="312.4" y2="709.4" stroke="#2b2b2b" stroke-width="0.9"/>
<text x="312.4" y="718.4" font-size="7.2" text-anchor="middle" fill="#4d4d4d" stroke="#4d4d4d" stroke-width="0.2">2</text>
<text x="230.2" y="730.3" font-size="7.8" font-weight="bold" fill="#000" textLength="89.6" lengthAdjust="spacingAndGlyphs">Target Gene Expression</text>
<text x="325.8" y="575.7" font-size="16" fill="#000" textLength="20.4" lengthAdjust="spacingAndGlyphs">(G)</text>
<text x="419.6" y="565.3" font-size="10.8" font-weight="bold" fill="#000" textLength="47.9" lengthAdjust="spacingAndGlyphs">O&lt;N&lt;H /</text>
<text x="472.8" y="565.4" font-size="12.1" fill="#000" textLength="3.89" lengthAdjust="spacingAndGlyphs">(</text>
<text x="477.4" y="565.3" font-size="10.8" font-weight="bold" fill="#000" textLength="137.2" lengthAdjust="spacingAndGlyphs">K_H=1.057, K_TF=0.429</text>
<text x="616.5" y="565.4" font-size="12.1" fill="#000" textLength="3.89" lengthAdjust="spacingAndGlyphs">)</text>
<text transform="translate(370,633.4) rotate(-90)" font-size="10.8" font-weight="bold" text-anchor="middle" textLength="55.2" lengthAdjust="spacingAndGlyphs">Expression</text>
<line x1="395.5" y1="572.3" x2="395.5" y2="609.4" stroke="#2b2b2b" stroke-width="1.15"/>
<line x1="393" y1="574.2" x2="395.5" y2="574.2" stroke="#2b2b2b" stroke-width="0.9"/>
<text x="389.7" y="576.9" font-size="7.5" text-anchor="end" fill="#383838" stroke="#383838" stroke-width="0.2">1.00</text>
<line x1="393" y1="582.62" x2="395.5" y2="582.62" stroke="#2b2b2b" stroke-width="0.9"/>
<text x="389.7" y="585.33" font-size="7.5" text-anchor="end" fill="#383838" stroke="#383838" stroke-width="0.2">0.75</text>
<line x1="393" y1="591.05" x2="395.5" y2="591.05" stroke="#2b2b2b" stroke-width="0.9"/>
<text x="389.7" y="593.75" font-size="7.5" text-anchor="end" fill="#383838" stroke="#383838" stroke-width="0.2">0.50</text>
<line x1="393" y1="599.48" x2="395.5" y2="599.48" stroke="#2b2b2b" stroke-width="0.9"/>
<text x="389.7" y="602.18" font-size="7.5" text-anchor="end" fill="#383838" stroke="#383838" stroke-width="0.2">0.25</text>
<line x1="393" y1="607.9" x2="395.5" y2="607.9" stroke="#2b2b2b" stroke-width="0.9"/>
<text x="389.7" y="610.6" font-size="7.5" text-anchor="end" fill="#383838" stroke="#383838" stroke-width="0.2">0.00</text>
<rect x="569.75" y="572.85" width="16" height="36" fill="#fff" stroke="#111" stroke-width="1.1"/>
<text transform="translate(574.36,590.85) rotate(90)" font-size="9.4" text-anchor="middle" fill="#1a1a1a" textLength="27.45" lengthAdjust="spacingAndGlyphs">HIF1A</text>
<line x1="403.27" y1="607.9" x2="439.3" y2="607.9" stroke="#f01818" stroke-width="1.4"/>
<line x1="464.8" y1="574.2" x2="500.02" y2="574.2" stroke="#33e833" stroke-width="1.4"/>
<text x="523.09" y="588.63" font-size="8.7" text-anchor="end" fill="#262626" stroke="#262626" stroke-width="0.2">0.67</text>
<rect x="528.36" y="574.4" width="2.06" height="15.21" fill="#9494ff"/>
<rect x="528.36" y="589.61" width="2.06" height="18.59" fill="#5a5aff"/>
<rect x="534.48" y="574.4" width="2.06" height="15.21" fill="#9494ff"/>
<rect x="534.48" y="589.61" width="2.06" height="18.59" fill="#5a5aff"/>
<rect x="540.61" y="574.4" width="2.06" height="15.21" fill="#9494ff"/>
<rect x="540.61" y="589.61" width="2.06" height="18.59" fill="#5a5aff"/>
<rect x="546.73" y="574.4" width="2.06" height="15.21" fill="#9494ff"/>
<rect x="546.73" y="589.61" width="2.06" height="18.59" fill="#5a5aff"/>
<rect x="552.86" y="574.4" width="2.06" height="15.21" fill="#9494ff"/>
<rect x="552.86" y="589.61" width="2.06" height="18.59" fill="#5a5aff"/>
<rect x="558.99" y="574.4" width="2.06" height="15.21" fill="#9494ff"/>
<rect x="558.99" y="589.61" width="2.06" height="18.59" fill="#5a5aff"/>
<polyline points="524.79,574.4 528.36,574.4 528.36,608.2 530.42,608.2 530.42,574.4 534.48,574.4 534.48,608.2 536.55,608.2 536.55,574.4 540.61,574.4 540.61,608.2 542.67,608.2 542.67,574.4 546.73,574.4 546.73,608.2 548.8,608.2 548.8,574.4 552.86,574.4 552.86,608.2 554.92,608.2 554.92,574.4 558.99,574.4 558.99,608.2 561.05,608.2 561.05,574.4" fill="none" stroke="#1414f0" stroke-width="1" stroke-linejoin="round"/>
<line x1="523.39" y1="585.5" x2="561.05" y2="585.5" stroke="#1a1a1a" stroke-width="0.9" stroke-dasharray="4.2,3.6"/>
<line x1="395.5" y1="615.4" x2="395.5" y2="651.3" stroke="#2b2b2b" stroke-width="1.15"/>
<line x1="393" y1="619.7" x2="395.5" y2="619.7" stroke="#2b2b2b" stroke-width="0.9"/>
<text x="389.7" y="622.4" font-size="7.5" text-anchor="end" fill="#383838" stroke="#383838" stroke-width="0.2">0.4</text>
<line x1="393" y1="627.28" x2="395.5" y2="627.28" stroke="#2b2b2b" stroke-width="0.9"/>
<text x="389.7" y="629.98" font-size="7.5" text-anchor="end" fill="#383838" stroke="#383838" stroke-width="0.2">0.3</text>
<line x1="393" y1="634.85" x2="395.5" y2="634.85" stroke="#2b2b2b" stroke-width="0.9"/>
<text x="389.7" y="637.55" font-size="7.5" text-anchor="end" fill="#383838" stroke="#383838" stroke-width="0.2">0.2</text>
<line x1="393" y1="642.42" x2="395.5" y2="642.42" stroke="#2b2b2b" stroke-width="0.9"/>
<text x="389.7" y="645.12" font-size="7.5" text-anchor="end" fill="#383838" stroke="#383838" stroke-width="0.2">0.1</text>
<line x1="393" y1="650" x2="395.5" y2="650" stroke="#2b2b2b" stroke-width="0.9"/>
<text x="389.7" y="652.7" font-size="7.5" text-anchor="end" fill="#383838" stroke="#383838" stroke-width="0.2">0.0</text>
<rect x="569.75" y="615.95" width="16" height="34.8" fill="#fff" stroke="#111" stroke-width="1.1"/>
<text transform="translate(574.36,633.35) rotate(90)" font-size="9.4" text-anchor="middle" fill="#1a1a1a" textLength="13.28" lengthAdjust="spacingAndGlyphs">TF</text>
<line x1="403.27" y1="650" x2="439.3" y2="650" stroke="#f01818" stroke-width="1.4"/>
<polyline points="464.8,617.5 471.68,617.1 500.02,616.9" fill="none" stroke="#33e833" stroke-width="1.4" stroke-linejoin="round"/>
<text x="523.09" y="631.43" font-size="8.7" text-anchor="end" fill="#262626" stroke="#262626" stroke-width="0.2">0.3</text>
<polyline points="524.79,632.38 528.41,623.2 531.42,633.4 534.43,623.2 537.45,633.4 540.46,623.2 543.47,633.4 546.49,623.2 549.5,633.4 552.51,623.2 555.52,633.4 558.54,623.2 561.55,633.4" fill="none" stroke="#1414f0" stroke-width="1.2" stroke-linejoin="round"/>
<line x1="523.39" y1="628.3" x2="561.05" y2="628.3" stroke="#1a1a1a" stroke-width="0.9" stroke-dasharray="4.2,3.6"/>
<line x1="395.5" y1="657.6" x2="395.5" y2="694" stroke="#2b2b2b" stroke-width="1.15"/>
<line x1="393" y1="657.6" x2="395.5" y2="657.6" stroke="#2b2b2b" stroke-width="0.9"/>
<text x="389.7" y="660.3" font-size="7.5" text-anchor="end" fill="#383838" stroke="#383838" stroke-width="0.2">1.10</text>
<line x1="393" y1="664.5" x2="395.5" y2="664.5" stroke="#2b2b2b" stroke-width="0.9"/>
<text x="389.7" y="667.2" font-size="7.5" text-anchor="end" fill="#383838" stroke="#383838" stroke-width="0.2">1.05</text>
<line x1="393" y1="671.4" x2="395.5" y2="671.4" stroke="#2b2b2b" stroke-width="0.9"/>
<text x="389.7" y="674.1" font-size="7.5" text-anchor="end" fill="#383838" stroke="#383838" stroke-width="0.2">1.00</text>
<line x1="393" y1="678.3" x2="395.5" y2="678.3" stroke="#2b2b2b" stroke-width="0.9"/>
<text x="389.7" y="681" font-size="7.5" text-anchor="end" fill="#383838" stroke="#383838" stroke-width="0.2">0.95</text>
<line x1="393" y1="685.2" x2="395.5" y2="685.2" stroke="#2b2b2b" stroke-width="0.9"/>
<text x="389.7" y="687.9" font-size="7.5" text-anchor="end" fill="#383838" stroke="#383838" stroke-width="0.2">0.90</text>
<line x1="393" y1="692.1" x2="395.5" y2="692.1" stroke="#2b2b2b" stroke-width="0.9"/>
<text x="389.7" y="694.8" font-size="7.5" text-anchor="end" fill="#383838" stroke="#383838" stroke-width="0.2">0.85</text>
<rect x="569.75" y="658.15" width="16" height="35.4" fill="#fff" stroke="#111" stroke-width="1.1"/>
<text transform="translate(574.36,675.85) rotate(90)" font-size="9.4" text-anchor="middle" fill="#1a1a1a" textLength="27.74" lengthAdjust="spacingAndGlyphs">Target</text>
<line x1="403.27" y1="671.6" x2="439.3" y2="671.6" stroke="#f01818" stroke-width="1.4"/>
<polyline points="464.8,661 471.68,659.5 500.02,659" fill="none" stroke="#33e833" stroke-width="1.4" stroke-linejoin="round"/>
<text x="523.09" y="689.23" font-size="8.7" text-anchor="end" fill="#262626" stroke="#262626" stroke-width="0.2">0.9</text>
<polyline points="524.79,675.3 527.86,692.6 530.92,675.3 533.98,692.6 537.05,675.3 540.11,692.6 543.17,675.3 546.23,692.6 549.3,675.3 552.36,692.6 555.42,675.3 558.49,692.6 561.55,675.3" fill="none" stroke="#1414f0" stroke-width="1.2" stroke-linejoin="round"/>
<line x1="523.39" y1="686.1" x2="561.05" y2="686.1" stroke="#1a1a1a" stroke-width="0.9" stroke-dasharray="4.2,3.6"/>
<line x1="394.9" y1="694" x2="568.7" y2="694" stroke="#2b2b2b" stroke-width="1.2"/>
<line x1="398.82" y1="694" x2="398.82" y2="696.6" stroke="#2b2b2b" stroke-width="0.9"/>
<text x="398.82" y="705.2" font-size="7.5" text-anchor="middle" fill="#4d4d4d" stroke="#4d4d4d" stroke-width="0.2">-10</text>
<line x1="439.3" y1="694" x2="439.3" y2="696.6" stroke="#2b2b2b" stroke-width="0.9"/>
<text x="439.3" y="705.2" font-size="7.5" text-anchor="middle" fill="#4d4d4d" stroke="#4d4d4d" stroke-width="0.2">0</text>
<line x1="479.78" y1="694" x2="479.78" y2="696.6" stroke="#2b2b2b" stroke-width="0.9"/>
<text x="479.78" y="705.2" font-size="7.5" text-anchor="middle" fill="#4d4d4d" stroke="#4d4d4d" stroke-width="0.2">10</text>
<line x1="520.26" y1="694" x2="520.26" y2="696.6" stroke="#2b2b2b" stroke-width="0.9"/>
<text x="520.26" y="705.2" font-size="7.5" text-anchor="middle" fill="#4d4d4d" stroke="#4d4d4d" stroke-width="0.2">20</text>
<line x1="560.74" y1="694" x2="560.74" y2="696.6" stroke="#2b2b2b" stroke-width="0.9"/>
<text x="560.74" y="705.2" font-size="7.5" text-anchor="middle" fill="#4d4d4d" stroke="#4d4d4d" stroke-width="0.2">30</text>
<text x="470.5" y="719" font-size="10.2" font-weight="bold" fill="#000" textLength="23.2" lengthAdjust="spacingAndGlyphs">Time</text>
<line x1="605.1" y1="605.8" x2="640.1" y2="605.8" stroke="#f01818" stroke-width="1.35"/>
<text x="650.6" y="609.04" font-size="9" font-weight="bold" fill="#000">N</text>
<line x1="605.1" y1="623.8" x2="640.1" y2="623.8" stroke="#33e833" stroke-width="1.35"/>
<text x="650.6" y="627.04" font-size="9" font-weight="bold" fill="#000">H</text>
<line x1="605.1" y1="641.8" x2="640.1" y2="641.8" stroke="#1414f0" stroke-width="1.35"/>
<text x="650.6" y="645.04" font-size="9" font-weight="bold" fill="#000">O</text>
<rect x="599.7" y="673.4" width="55" height="2.6" fill="#f01818"/>
<text x="656.2" y="678.32" font-size="8.39" fill="#4d4d4d" stroke="#4d4d4d" stroke-width="0.2">1</text>
<text x="591.3" y="677.59" font-size="8.03" font-weight="bold" fill="#000" textLength="5.84" lengthAdjust="spacingAndGlyphs">N</text>
<rect x="599.7" y="680.3" width="59.95" height="2.6" fill="#33e833"/>
<text x="661.15" y="685.22" font-size="8.39" fill="#4d4d4d" stroke="#4d4d4d" stroke-width="0.2">1.09</text>
<text x="591.3" y="684.49" font-size="8.03" font-weight="bold" fill="#000" textLength="5.84" lengthAdjust="spacingAndGlyphs">H</text>
<rect x="599.7" y="687.2" width="49.5" height="2.6" fill="#1414f0"/>
<text x="650.7" y="692.12" font-size="8.39" fill="#4d4d4d" stroke="#4d4d4d" stroke-width="0.2">0.9</text>
<text x="591.3" y="691.39" font-size="8.03" font-weight="bold" fill="#000" textLength="5.84" lengthAdjust="spacingAndGlyphs">O</text>
<line x1="595.2" y1="694.1" x2="686" y2="694.1" stroke="#2b2b2b" stroke-width="1.15"/>
<line x1="599.7" y1="694.1" x2="599.7" y2="696.5" stroke="#2b2b2b" stroke-width="0.9"/>
<text x="599.7" y="706.2" font-size="7.3" text-anchor="middle" fill="#4d4d4d" stroke="#4d4d4d" stroke-width="0.2">0.0</text>
<line x1="627.2" y1="694.1" x2="627.2" y2="696.5" stroke="#2b2b2b" stroke-width="0.9"/>
<text x="627.2" y="706.2" font-size="7.3" text-anchor="middle" fill="#4d4d4d" stroke="#4d4d4d" stroke-width="0.2">0.5</text>
<line x1="654.7" y1="694.1" x2="654.7" y2="696.5" stroke="#2b2b2b" stroke-width="0.9"/>
<text x="654.7" y="706.2" font-size="7.3" text-anchor="middle" fill="#4d4d4d" stroke="#4d4d4d" stroke-width="0.2">1.0</text>
<line x1="682.2" y1="694.1" x2="682.2" y2="696.5" stroke="#2b2b2b" stroke-width="0.9"/>
<text x="682.2" y="706.2" font-size="7.3" text-anchor="middle" fill="#4d4d4d" stroke="#4d4d4d" stroke-width="0.2">1.5</text>
<text x="587.2" y="717.6" font-size="8" font-weight="bold" fill="#000" textLength="92.7" lengthAdjust="spacingAndGlyphs">Target Gene Expression</text>
<line x1="326.3" y1="167.2" x2="420" y2="393.6" stroke="#111" stroke-width="0.85"/>
<line x1="520.4" y1="169.9" x2="478.8" y2="307.8" stroke="#111" stroke-width="0.85"/>
<line x1="292" y1="325.7" x2="353.6" y2="412.05" stroke="#111" stroke-width="0.85"/>
<line x1="294.2" y1="436.2" x2="442.05" y2="461" stroke="#111" stroke-width="0.85"/>
<line x1="302.6" y1="562.5" x2="530.4" y2="460.9" stroke="#111" stroke-width="0.85"/>
<line x1="505.3" y1="537.2" x2="470" y2="424.2" stroke="#111" stroke-width="0.85"/>
<circle cx="420" cy="393.6" r="3.7" fill="#000"/>
<circle cx="478.8" cy="307.8" r="3.7" fill="#000"/>
<circle cx="353.6" cy="412.05" r="3.7" fill="#000"/>
<circle cx="442.05" cy="461" r="3.7" fill="#000"/>
<circle cx="530.4" cy="460.9" r="3.7" fill="#000"/>
<circle cx="470" cy="424.2" r="3.7" fill="#000"/>
</svg>
</body></html>
